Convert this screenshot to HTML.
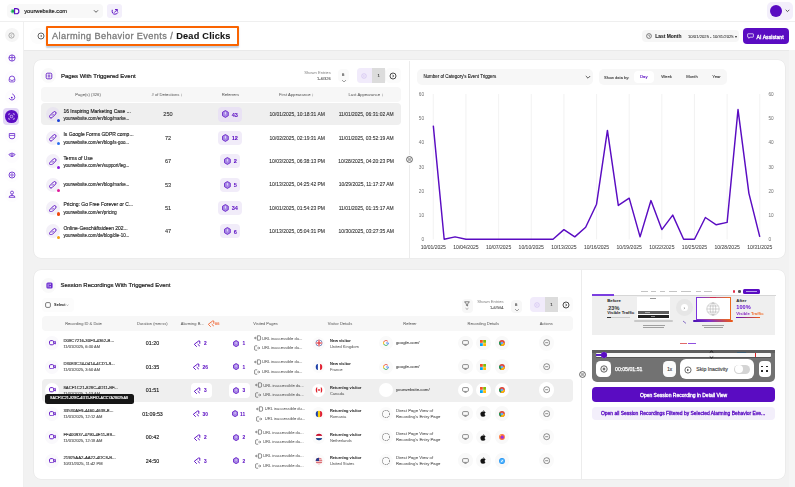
<!DOCTYPE html><html><head><meta charset="utf-8"><style>
html,body{margin:0;padding:0;width:795px;height:487px;overflow:hidden;background:#fff;font-family:"Liberation Sans",sans-serif;}
#root{position:absolute;left:0;top:0;width:795px;height:487px;transform:translateZ(0);opacity:0.999;-webkit-text-stroke-width:0.16px;}
*{box-sizing:border-box;}
</style></head><body><div id="root">
<div style="position:absolute;left:0px;top:0px;width:795px;height:22px;background:#fff;border-bottom:1px solid #efefef"></div>
<div style="position:absolute;left:0px;top:22px;width:24px;height:465px;background:#fff;border-right:1px solid #f0f0f0"></div>
<div style="position:absolute;left:24px;top:22px;width:771px;height:28px;background:#fff"></div>
<div style="position:absolute;left:24px;top:50px;width:771px;height:437px;background:#f2f2f2"></div>
<div style="position:absolute;left:24px;top:50px;width:771px;height:0.8px;background:#e9e9e9"></div>
<div style="position:absolute;left:789px;top:50px;width:6px;height:437px;background:#f5f5f5"></div>
<div style="position:absolute;left:6.5px;top:4px;width:96px;height:14.3px;background:#f8f8f8;border-radius:4px"></div>
<svg style="position:absolute;left:10px;top:7px;" width="10" height="9" viewBox="0 0 10 9"><circle cx="3" cy="4.2" r="2.3" fill="#7fd8a8"/><circle cx="3" cy="4.2" r="1.3" fill="#1aa050"/><path d="M4.6 1.6 H6.3 A2.6 2.6 0 0 1 6.3 6.8 H4.6 Z" stroke="#5a0cc2" stroke-width="1.1" fill="#fff"/></svg>
<div style="position:absolute;left:24.2px;top:5.57px;height:11.46px;line-height:11.46px;font-size:5.73px;color:#222;font-weight:normal;white-space:nowrap;">yourwebsite.com</div>
<svg style="position:absolute;left:93px;top:9px;" width="6" height="5" viewBox="0 0 6 5"><path d="M1 1.3 L3 3.3 L5 1.3" stroke="#333" stroke-width="0.8" fill="none"/></svg>
<div style="position:absolute;left:107.4px;top:4px;width:14.4px;height:14.3px;background:#f3effb;border-radius:3px"></div>
<svg style="position:absolute;left:111px;top:7.5px;" width="8" height="8" viewBox="0 0 8 8"><path d="M1.2 2.2 Q0.6 6.2 4 6.2 Q6.2 6.1 6.8 4.8" stroke="#5a0cc2" stroke-width="0.95" fill="none" stroke-linecap="round"/><path d="M3.4 4.4 L6 1.8" stroke="#5a0cc2" stroke-width="0.9" stroke-linecap="round"/><path d="M4.4 1.5 H6.3 V3.4" stroke="#5a0cc2" stroke-width="0.9" fill="none" stroke-linecap="round" stroke-linejoin="round"/></svg>
<div style="position:absolute;left:767px;top:2.3px;width:26px;height:17.7px;background:#f3effb;border-radius:5px"></div>
<div style="position:absolute;left:770.1px;top:5.199999999999999px;width:12px;height:12px;border-radius:50%;background:#5a0cc2"></div>
<svg style="position:absolute;left:784.5px;top:9px;" width="5" height="4" viewBox="0 0 5 4"><path d="M0.7 0.8 L2.5 2.6 L4.3 0.8" stroke="#333" stroke-width="0.8" fill="none"/></svg>
<div style="position:absolute;left:4.699999999999999px;top:28.299999999999997px;width:14px;height:14px;border-radius:50%;background:#f5f5f5"></div>
<svg style="position:absolute;left:8.2px;top:31.8px;" width="7" height="7" viewBox="0 0 7 7"><circle cx="3.5" cy="3.5" r="2.6" stroke="#8a8a8a" stroke-width="0.7" fill="none"/><path d="M4 2.3 L2.8 3.5 L4 4.7" stroke="#8a8a8a" stroke-width="0.7" fill="none"/></svg>
<div style="position:absolute;left:4.699999999999999px;top:51px;width:14px;height:14px;border-radius:50%;background:#fdfcfe"></div>
<div style="position:absolute;left:4.699999999999999px;top:70.5px;width:14px;height:14px;border-radius:50%;background:#fdfcfe"></div>
<div style="position:absolute;left:4.699999999999999px;top:90px;width:14px;height:14px;border-radius:50%;background:#fdfcfe"></div>
<div style="position:absolute;left:4.699999999999999px;top:129px;width:14px;height:14px;border-radius:50%;background:#fdfcfe"></div>
<div style="position:absolute;left:4.699999999999999px;top:148.5px;width:14px;height:14px;border-radius:50%;background:#fdfcfe"></div>
<div style="position:absolute;left:4.699999999999999px;top:168px;width:14px;height:14px;border-radius:50%;background:#fdfcfe"></div>
<div style="position:absolute;left:4.699999999999999px;top:187.5px;width:14px;height:14px;border-radius:50%;background:#fdfcfe"></div>
<svg style="position:absolute;left:7.8px;top:53.8px;" width="8" height="8" viewBox="0 0 8 8"><circle cx="4" cy="4" r="3.1" stroke="#6424cc" stroke-width="0.8" fill="none"/><path d="M4 0.9 V7.1 M0.9 3.6 H7.1" stroke="#6424cc" stroke-width="0.75"/></svg>
<svg style="position:absolute;left:7.8px;top:74.7px;" width="8" height="8" viewBox="0 0 8 8"><path d="M1.2 4.2 Q1.2 1 4 1 Q6.8 1 6.8 4.2 V5.6 Q6.8 6.9 5.5 6.9 H2.5 Q1.2 6.9 1.2 5.6 Z" stroke="#6424cc" stroke-width="0.8" fill="none"/><path d="M1.4 4.4 L4 5.6 L6.6 4.4" stroke="#6424cc" stroke-width="0.75" fill="none"/></svg>
<svg style="position:absolute;left:7.8px;top:92.7px;" width="8" height="8" viewBox="0 0 8 8"><path d="M4.6 1 Q7 2.2 6.8 4.6 Q6.4 7 4 7 Q2 7 1.2 5.4" stroke="#6424cc" stroke-width="0.85" fill="none" stroke-linecap="round"/><circle cx="3.8" cy="4.6" r="0.9" fill="#6424cc"/></svg>
<div style="position:absolute;left:2.7px;top:108px;width:16.5px;height:17px;background:#e3d8f6;border-radius:4px"></div>
<div style="position:absolute;left:5.000000000000001px;top:110.2px;width:12.6px;height:12.6px;border-radius:50%;background:#5a0cc2"></div>
<svg style="position:absolute;left:8px;top:113.2px;" width="7" height="7" viewBox="0 0 7 7"><path d="M0.8 2.2 V0.8 H2.2 M4.8 0.8 H6.2 V2.2 M6.2 4.8 V6.2 H4.8 M2.2 6.2 H0.8 V4.8" stroke="#fff" stroke-width="0.6" fill="none"/><circle cx="3.5" cy="3.5" r="1.3" stroke="#fff" stroke-width="0.6" fill="none"/></svg>
<svg style="position:absolute;left:7.8px;top:131.8px;" width="8" height="8" viewBox="0 0 8 8"><path d="M1.3 1.5 H6.7 V5 Q6.7 6.8 4 6.8 Q1.3 6.8 1.3 5 Z" stroke="#6424cc" stroke-width="0.8" fill="none"/><path d="M1.3 3.4 H6.7" stroke="#6424cc" stroke-width="0.75"/></svg>
<svg style="position:absolute;left:7.8px;top:151.3px;" width="8" height="8" viewBox="0 0 8 8"><path d="M0.9 3.4 Q4 0.6 7.1 3.4 Q4 8 0.9 3.4 Z" stroke="#6424cc" stroke-width="0.8" fill="none"/><circle cx="4" cy="3.9" r="1" stroke="#6424cc" stroke-width="0.7" fill="none"/></svg>
<svg style="position:absolute;left:7.8px;top:170.8px;" width="8" height="8" viewBox="0 0 8 8"><circle cx="4" cy="4" r="3" stroke="#6424cc" stroke-width="0.85" fill="none"/><circle cx="4" cy="4" r="1.2" stroke="#6424cc" stroke-width="0.75" fill="none"/></svg>
<svg style="position:absolute;left:7.8px;top:190.3px;" width="8" height="8" viewBox="0 0 8 8"><circle cx="4" cy="2.6" r="1.5" stroke="#6424cc" stroke-width="0.8" fill="none"/><path d="M4 4.1 V5.4 M1 7.3 Q1 5.4 4 5.4 Q7 5.4 7 7.3 Z" stroke="#6424cc" stroke-width="0.8" fill="none"/></svg>
<div style="position:absolute;left:30px;top:28.1px;width:16px;height:16px;border-radius:50%;background:#fcfcfc"></div>
<svg style="position:absolute;left:36.75px;top:32.1px;" width="8" height="8" viewBox="0 0 8 8"><circle cx="4" cy="4" r="3" stroke="#333" stroke-width="0.75" fill="none"/><path d="M4.6 2.9 L3.2 4 L4.6 5.1 Z" fill="#222"/></svg>
<div style="position:absolute;left:46px;top:26.4px;width:192.5px;height:19.8px;border:2.2px solid #fa6400;border-radius:1px;background:#fff;box-shadow:0 1.5px 1.5px rgba(120,150,190,0.45)"></div>
<div style="position:absolute;left:52px;top:30.3px;height:13px;line-height:13px;font-size:9.2px;white-space:nowrap;"><span style="color:#7a7a7a;letter-spacing:0.4px;-webkit-text-stroke-width:0.3px">Alarming Behavior Events / </span><span style="color:#151515;font-weight:bold;letter-spacing:0.22px;-webkit-text-stroke-width:0.1px">Dead Clicks</span></div>
<div style="position:absolute;left:642px;top:29.8px;width:97px;height:12.7px;background:#f6f6f6;border-radius:4px"></div>
<svg style="position:absolute;left:645.8px;top:32.8px;" width="6" height="6" viewBox="0 0 6 6"><circle cx="3" cy="3" r="2.4" stroke="#333" stroke-width="0.6" fill="none"/><path d="M3 1.8 V3 L3.8 3.6" stroke="#333" stroke-width="0.6" fill="none"/></svg>
<div style="position:absolute;left:655.2px;top:31.95px;height:9.9px;line-height:9.9px;font-size:4.95px;color:#151515;font-weight:bold;white-space:nowrap;-webkit-text-stroke-width:0.05px;">Last Month</div>
<div style="position:absolute;left:688px;top:32.699999999999996px;height:8.4px;line-height:8.4px;font-size:4.2px;color:#333;font-weight:normal;white-space:nowrap;-webkit-text-stroke-width:0.05px;">10/01/2025 - 10/31/2025 ▾</div>
<div style="position:absolute;left:743.3px;top:28.4px;width:45.7px;height:15.4px;background:#5a0cc2;border-radius:4px"></div>
<svg style="position:absolute;left:747.3px;top:33.4px;" width="7" height="6" viewBox="0 0 7 6"><path d="M1 0.8 H6 Q6.4 0.8 6.4 1.2 V3.8 Q6.4 4.2 6 4.2 H3 L1.8 5.3 V4.2 H1 Q0.6 4.2 0.6 3.8 V1.2 Q0.6 0.8 1 0.8 Z" stroke="#fff" stroke-width="0.7" fill="none"/></svg>
<div style="position:absolute;left:756.6px;top:31.599999999999998px;height:10.4px;line-height:10.4px;font-size:5.2px;color:#fff;font-weight:normal;white-space:nowrap;-webkit-text-stroke-width:0.32px;">AI Assistant</div>
<div style="position:absolute;left:33.5px;top:60.4px;width:751.1px;height:198px;background:#fff;border-radius:7px;box-shadow:0 0 0 0.6px #e6e6e6"></div>
<div style="position:absolute;left:33.5px;top:270.2px;width:751.1px;height:209px;background:#fff;border-radius:7px;box-shadow:0 0 0 0.6px #e6e6e6"></div>
<div style="position:absolute;left:409px;top:60.5px;width:0.9px;height:198px;background:#ececec"></div>
<div style="position:absolute;left:581px;top:270.2px;width:0.9px;height:209px;background:#ececec"></div>
<div style="position:absolute;left:41.3px;top:68.1px;width:15.0px;height:15.0px;border-radius:50%;background:#f9f9f9"></div>
<svg style="position:absolute;left:44.8px;top:71.6px;" width="8" height="8" viewBox="0 0 8 8"><rect x="1.2" y="1.2" width="5.6" height="5.6" rx="1.2" stroke="#5a0cc2" stroke-width="0.85" fill="none"/><path d="M3.3 2.5 V5.5 M4.7 2.5 V5.5" stroke="#5a0cc2" stroke-width="0.7"/></svg>
<div style="position:absolute;left:61px;top:69.8px;height:12.0px;line-height:12.0px;font-size:6.0px;color:#1a1a1a;font-weight:normal;white-space:nowrap;-webkit-text-stroke-width:0.2px;">Pages With Triggered Event</div>
<div style="position:absolute;left:30.69999999999999px;width:300px;text-align:right;top:69.10000000000001px;height:8.2px;line-height:8.2px;font-size:4.1px;color:#8a8a8a;font-weight:normal;white-space:nowrap;-webkit-text-stroke-width:0.02px;">Shown Entries</div>
<div style="position:absolute;left:30.69999999999999px;width:300px;text-align:right;top:74.7px;height:8.0px;line-height:8.0px;font-size:4.0px;color:#444;font-weight:normal;white-space:nowrap;-webkit-text-stroke-width:0.05px;">1-6/326</div>
<div style="position:absolute;left:338px;top:68.5px;width:10.7px;height:13.9px;background:#fafafa;border-radius:4px"></div>
<div style="position:absolute;left:193.3px;width:300px;text-align:center;top:71.10000000000001px;height:8.6px;line-height:8.6px;font-size:4.3px;color:#333;font-weight:normal;white-space:nowrap;-webkit-text-stroke-width:0.1px;">6</div>
<svg style="position:absolute;left:340.5px;top:78.5px;" width="6" height="4" viewBox="0 0 6 4"><path d="M1 1 L3 3 L5 1" stroke="#666" stroke-width="0.6" fill="none"/></svg>
<div style="position:absolute;left:356.6px;top:68px;width:29px;height:15px;background:#f6f6f6;border-radius:4px;overflow:hidden"></div>
<div style="position:absolute;left:356.6px;top:68px;width:15.4px;height:15px;background:#f1ebfb;border-radius:4px 0 0 4px"></div>
<svg style="position:absolute;left:361.3px;top:72.5px;" width="6" height="6" viewBox="0 0 6 6"><circle cx="3" cy="3" r="2.3" stroke="#cbb8ef" stroke-width="0.6" fill="none"/><path d="M3.4 2 L2.4 3 L3.4 4" stroke="#cbb8ef" stroke-width="0.6" fill="none"/></svg>
<div style="position:absolute;left:372px;top:68px;width:13.3px;height:15px;background:#dcdcdc"></div>
<div style="position:absolute;left:228.8px;width:300px;text-align:center;top:71.89999999999999px;height:8.8px;line-height:8.8px;font-size:4.4px;color:#333;font-weight:normal;white-space:nowrap;-webkit-text-stroke-width:0.1px;">1</div>
<div style="position:absolute;left:385.5px;top:68.2px;width:15.5px;height:15.1px;background:#fbfbfb;border-radius:4px"></div>
<svg style="position:absolute;left:388.8px;top:71.9px;" width="8" height="8" viewBox="0 0 8 8"><circle cx="4" cy="4" r="3" stroke="#222" stroke-width="0.8" fill="none"/><path d="M3.4 2.7 L4.7 4 L3.4 5.3" stroke="#222" stroke-width="0.8" fill="none"/></svg>
<div style="position:absolute;left:41px;top:86.5px;width:360px;height:15px;background:#f7f7f7;border-radius:4px"></div>
<div style="position:absolute;left:-62px;width:300px;text-align:center;top:90.89999999999999px;height:8.4px;line-height:8.4px;font-size:4.2px;color:#5e5e5e;font-weight:normal;white-space:nowrap;-webkit-text-stroke-width:0.03px;">Page(s) (326)</div>
<div style="position:absolute;left:17px;width:300px;text-align:center;top:90.89999999999999px;height:8.4px;line-height:8.4px;font-size:4.2px;color:#5e5e5e;font-weight:normal;white-space:nowrap;-webkit-text-stroke-width:0.03px;"># of Detections ↕</div>
<div style="position:absolute;left:80.4px;width:300px;text-align:center;top:90.89999999999999px;height:8.4px;line-height:8.4px;font-size:4.2px;color:#5e5e5e;font-weight:normal;white-space:nowrap;-webkit-text-stroke-width:0.03px;">Referrers</div>
<div style="position:absolute;left:146.39999999999998px;width:300px;text-align:center;top:90.89999999999999px;height:8.4px;line-height:8.4px;font-size:4.2px;color:#5e5e5e;font-weight:normal;white-space:nowrap;-webkit-text-stroke-width:0.03px;">First Appearance ↕</div>
<div style="position:absolute;left:215.89999999999998px;width:300px;text-align:center;top:90.89999999999999px;height:8.4px;line-height:8.4px;font-size:4.2px;color:#5e5e5e;font-weight:normal;white-space:nowrap;-webkit-text-stroke-width:0.03px;">Last Appearance ↕</div>
<div style="position:absolute;left:41px;top:103.4px;width:360px;height:22px;background:#efefef;border-radius:4px"></div>
<div style="position:absolute;left:45.6px;top:107.4px;width:14px;height:14px;border-radius:50%;background:#e9e5f0"></div>
<svg style="position:absolute;left:49.2px;top:111.0px;" width="7.6" height="7.6" viewBox="0 0 7.6 7.6"><rect x="2.3" y="-0.2" width="3" height="8" rx="1.5" transform="rotate(45 3.8 3.8)" stroke="#5a0cc2" stroke-width="0.9" fill="none"/><path d="M3 4.6 L4.6 3" stroke="#5a0cc2" stroke-width="0.8"/></svg>
<div style="position:absolute;left:56.8px;top:118.80000000000001px;width:3.2px;height:3.2px;border-radius:50%;background:#1a3fd6"></div>
<div style="position:absolute;left:63.4px;top:106.82000000000001px;height:9.96px;line-height:9.96px;font-size:4.98px;color:#1a1a1a;font-weight:normal;white-space:nowrap;-webkit-text-stroke-width:0.14px;">16 Inspiring Marketing Case ...</div>
<div style="position:absolute;left:63.4px;top:115.39000000000001px;height:8.82px;line-height:8.82px;font-size:4.41px;color:#333;font-weight:normal;white-space:nowrap;">yourwebsite.com/en/blog/marke...</div>
<div style="position:absolute;left:18px;width:300px;text-align:center;top:109.4px;height:11.2px;line-height:11.2px;font-size:5.6px;color:#333;font-weight:normal;white-space:nowrap;-webkit-text-stroke-width:0.1px;">250</div>
<div style="position:absolute;left:218.04999999999998px;top:107.4px;width:24.3px;height:14.2px;background:#e9e2f4;border-radius:4px"></div>
<svg style="position:absolute;left:222.03799999999998px;top:110.42800000000001px;" width="6.824000000000001" height="7.944000000000001" viewBox="0 0 6.824000000000001 7.944000000000001"><path d="M3.41 0.5 L6.32 2.24 V5.71 L3.41 7.44 L0.5 5.71 V2.24 Z" fill="#a888e6" stroke="#5a0cc2" stroke-width="0.75" stroke-linejoin="round"/><path d="M3.41 2.58 V3.97" stroke="#e6dbfa" stroke-width="1.01" stroke-linecap="round"/></svg>
<div style="position:absolute;left:231.75px;top:109.70000000000002px;height:11.2px;line-height:11.2px;font-size:5.6px;color:#5a0cc2;font-weight:bold;white-space:nowrap;-webkit-text-stroke-width:0.05px;">43</div>
<div style="position:absolute;left:147.2px;width:300px;text-align:center;top:110.23px;height:9.94px;line-height:9.94px;font-size:4.97px;color:#333;font-weight:normal;white-space:nowrap;-webkit-text-stroke-width:0.1px;">10/01/2025, 10:18:31 AM</div>
<div style="position:absolute;left:216.2px;width:300px;text-align:center;top:110.23px;height:9.94px;line-height:9.94px;font-size:4.97px;color:#333;font-weight:normal;white-space:nowrap;-webkit-text-stroke-width:0.1px;">11/01/2025, 06:31:02 AM</div>
<div style="position:absolute;left:45.6px;top:130.78px;width:14px;height:14px;border-radius:50%;background:#f3f0f8"></div>
<svg style="position:absolute;left:49.2px;top:134.38px;" width="7.6" height="7.6" viewBox="0 0 7.6 7.6"><rect x="2.3" y="-0.2" width="3" height="8" rx="1.5" transform="rotate(45 3.8 3.8)" stroke="#5a0cc2" stroke-width="0.9" fill="none"/><path d="M3 4.6 L4.6 3" stroke="#5a0cc2" stroke-width="0.8"/></svg>
<div style="position:absolute;left:56.8px;top:142.18px;width:3.2px;height:3.2px;border-radius:50%;background:#2a6ef0"></div>
<div style="position:absolute;left:63.4px;top:130.20000000000002px;height:9.96px;line-height:9.96px;font-size:4.98px;color:#1a1a1a;font-weight:normal;white-space:nowrap;-webkit-text-stroke-width:0.14px;">Is Google Forms GDPR comp...</div>
<div style="position:absolute;left:63.4px;top:138.77px;height:8.82px;line-height:8.82px;font-size:4.41px;color:#333;font-weight:normal;white-space:nowrap;">yourwebsite.com/en/blog/is-goo...</div>
<div style="position:absolute;left:18px;width:300px;text-align:center;top:132.78px;height:11.2px;line-height:11.2px;font-size:5.6px;color:#333;font-weight:normal;white-space:nowrap;-webkit-text-stroke-width:0.1px;">72</div>
<div style="position:absolute;left:218.04999999999998px;top:130.78px;width:24.3px;height:14.2px;background:#f1ecf9;border-radius:4px"></div>
<svg style="position:absolute;left:222.03799999999998px;top:133.808px;" width="6.824000000000001" height="7.944000000000001" viewBox="0 0 6.824000000000001 7.944000000000001"><path d="M3.41 0.5 L6.32 2.24 V5.71 L3.41 7.44 L0.5 5.71 V2.24 Z" fill="#a888e6" stroke="#5a0cc2" stroke-width="0.75" stroke-linejoin="round"/><path d="M3.41 2.58 V3.97" stroke="#e6dbfa" stroke-width="1.01" stroke-linecap="round"/></svg>
<div style="position:absolute;left:231.75px;top:133.08px;height:11.2px;line-height:11.2px;font-size:5.6px;color:#5a0cc2;font-weight:bold;white-space:nowrap;-webkit-text-stroke-width:0.05px;">12</div>
<div style="position:absolute;left:147.2px;width:300px;text-align:center;top:133.61px;height:9.94px;line-height:9.94px;font-size:4.97px;color:#333;font-weight:normal;white-space:nowrap;-webkit-text-stroke-width:0.1px;">10/02/2025, 02:19:31 AM</div>
<div style="position:absolute;left:216.2px;width:300px;text-align:center;top:133.61px;height:9.94px;line-height:9.94px;font-size:4.97px;color:#333;font-weight:normal;white-space:nowrap;-webkit-text-stroke-width:0.1px;">11/01/2025, 03:52:19 AM</div>
<div style="position:absolute;left:45.6px;top:154.16px;width:14px;height:14px;border-radius:50%;background:#f3f0f8"></div>
<svg style="position:absolute;left:49.2px;top:157.76px;" width="7.6" height="7.6" viewBox="0 0 7.6 7.6"><rect x="2.3" y="-0.2" width="3" height="8" rx="1.5" transform="rotate(45 3.8 3.8)" stroke="#5a0cc2" stroke-width="0.9" fill="none"/><path d="M3 4.6 L4.6 3" stroke="#5a0cc2" stroke-width="0.8"/></svg>
<div style="position:absolute;left:56.8px;top:165.56px;width:3.2px;height:3.2px;border-radius:50%;background:#8a18e0"></div>
<div style="position:absolute;left:63.4px;top:153.58px;height:9.96px;line-height:9.96px;font-size:4.98px;color:#1a1a1a;font-weight:normal;white-space:nowrap;-webkit-text-stroke-width:0.14px;">Terms of Use</div>
<div style="position:absolute;left:63.4px;top:162.15px;height:8.82px;line-height:8.82px;font-size:4.41px;color:#333;font-weight:normal;white-space:nowrap;">yourwebsite.com/en/support/leg...</div>
<div style="position:absolute;left:18px;width:300px;text-align:center;top:156.16px;height:11.2px;line-height:11.2px;font-size:5.6px;color:#333;font-weight:normal;white-space:nowrap;-webkit-text-stroke-width:0.1px;">67</div>
<div style="position:absolute;left:219.95px;top:154.16px;width:20.5px;height:14.2px;background:#f1ecf9;border-radius:4px"></div>
<svg style="position:absolute;left:223.938px;top:157.188px;" width="6.824000000000001" height="7.944000000000001" viewBox="0 0 6.824000000000001 7.944000000000001"><path d="M3.41 0.5 L6.32 2.24 V5.71 L3.41 7.44 L0.5 5.71 V2.24 Z" fill="#a888e6" stroke="#5a0cc2" stroke-width="0.75" stroke-linejoin="round"/><path d="M3.41 2.58 V3.97" stroke="#e6dbfa" stroke-width="1.01" stroke-linecap="round"/></svg>
<div style="position:absolute;left:233.65px;top:156.46px;height:11.2px;line-height:11.2px;font-size:5.6px;color:#5a0cc2;font-weight:bold;white-space:nowrap;-webkit-text-stroke-width:0.05px;">2</div>
<div style="position:absolute;left:147.2px;width:300px;text-align:center;top:156.99px;height:9.94px;line-height:9.94px;font-size:4.97px;color:#333;font-weight:normal;white-space:nowrap;-webkit-text-stroke-width:0.1px;">10/03/2025, 06:38:13 PM</div>
<div style="position:absolute;left:216.2px;width:300px;text-align:center;top:156.99px;height:9.94px;line-height:9.94px;font-size:4.97px;color:#333;font-weight:normal;white-space:nowrap;-webkit-text-stroke-width:0.1px;">10/28/2025, 04:20:23 PM</div>
<div style="position:absolute;left:45.6px;top:177.54000000000002px;width:14px;height:14px;border-radius:50%;background:#f3f0f8"></div>
<svg style="position:absolute;left:49.2px;top:181.14000000000001px;" width="7.6" height="7.6" viewBox="0 0 7.6 7.6"><rect x="2.3" y="-0.2" width="3" height="8" rx="1.5" transform="rotate(45 3.8 3.8)" stroke="#5a0cc2" stroke-width="0.9" fill="none"/><path d="M3 4.6 L4.6 3" stroke="#5a0cc2" stroke-width="0.8"/></svg>
<div style="position:absolute;left:56.8px;top:188.94000000000003px;width:3.2px;height:3.2px;border-radius:50%;background:#e0189a"></div>
<div style="position:absolute;left:63.4px;top:181.43000000000004px;height:8.82px;line-height:8.82px;font-size:4.41px;color:#333;font-weight:normal;white-space:nowrap;">yourwebsite.com/en/blog/marke...</div>
<div style="position:absolute;left:18px;width:300px;text-align:center;top:179.54000000000002px;height:11.2px;line-height:11.2px;font-size:5.6px;color:#333;font-weight:normal;white-space:nowrap;-webkit-text-stroke-width:0.1px;">53</div>
<div style="position:absolute;left:219.95px;top:177.54000000000002px;width:20.5px;height:14.2px;background:#f1ecf9;border-radius:4px"></div>
<svg style="position:absolute;left:223.938px;top:180.568px;" width="6.824000000000001" height="7.944000000000001" viewBox="0 0 6.824000000000001 7.944000000000001"><path d="M3.41 0.5 L6.32 2.24 V5.71 L3.41 7.44 L0.5 5.71 V2.24 Z" fill="#a888e6" stroke="#5a0cc2" stroke-width="0.75" stroke-linejoin="round"/><path d="M3.41 2.58 V3.97" stroke="#e6dbfa" stroke-width="1.01" stroke-linecap="round"/></svg>
<div style="position:absolute;left:233.65px;top:179.84000000000003px;height:11.2px;line-height:11.2px;font-size:5.6px;color:#5a0cc2;font-weight:bold;white-space:nowrap;-webkit-text-stroke-width:0.05px;">5</div>
<div style="position:absolute;left:147.2px;width:300px;text-align:center;top:180.37000000000003px;height:9.94px;line-height:9.94px;font-size:4.97px;color:#333;font-weight:normal;white-space:nowrap;-webkit-text-stroke-width:0.1px;">10/13/2025, 04:25:42 PM</div>
<div style="position:absolute;left:216.2px;width:300px;text-align:center;top:180.37000000000003px;height:9.94px;line-height:9.94px;font-size:4.97px;color:#333;font-weight:normal;white-space:nowrap;-webkit-text-stroke-width:0.1px;">10/29/2025, 11:17:27 AM</div>
<div style="position:absolute;left:45.6px;top:200.92000000000002px;width:14px;height:14px;border-radius:50%;background:#f3f0f8"></div>
<svg style="position:absolute;left:49.2px;top:204.52px;" width="7.6" height="7.6" viewBox="0 0 7.6 7.6"><rect x="2.3" y="-0.2" width="3" height="8" rx="1.5" transform="rotate(45 3.8 3.8)" stroke="#5a0cc2" stroke-width="0.9" fill="none"/><path d="M3 4.6 L4.6 3" stroke="#5a0cc2" stroke-width="0.8"/></svg>
<div style="position:absolute;left:56.8px;top:212.32000000000002px;width:3.2px;height:3.2px;border-radius:50%;background:#f04a10"></div>
<div style="position:absolute;left:63.4px;top:200.34000000000003px;height:9.96px;line-height:9.96px;font-size:4.98px;color:#1a1a1a;font-weight:normal;white-space:nowrap;-webkit-text-stroke-width:0.14px;">Pricing: Go Free Forever or C...</div>
<div style="position:absolute;left:63.4px;top:208.91000000000003px;height:8.82px;line-height:8.82px;font-size:4.41px;color:#333;font-weight:normal;white-space:nowrap;">yourwebsite.com/en/pricing</div>
<div style="position:absolute;left:18px;width:300px;text-align:center;top:202.92000000000002px;height:11.2px;line-height:11.2px;font-size:5.6px;color:#333;font-weight:normal;white-space:nowrap;-webkit-text-stroke-width:0.1px;">51</div>
<div style="position:absolute;left:218.04999999999998px;top:200.92000000000002px;width:24.3px;height:14.2px;background:#f1ecf9;border-radius:4px"></div>
<svg style="position:absolute;left:222.03799999999998px;top:203.948px;" width="6.824000000000001" height="7.944000000000001" viewBox="0 0 6.824000000000001 7.944000000000001"><path d="M3.41 0.5 L6.32 2.24 V5.71 L3.41 7.44 L0.5 5.71 V2.24 Z" fill="#a888e6" stroke="#5a0cc2" stroke-width="0.75" stroke-linejoin="round"/><path d="M3.41 2.58 V3.97" stroke="#e6dbfa" stroke-width="1.01" stroke-linecap="round"/></svg>
<div style="position:absolute;left:231.75px;top:203.22000000000003px;height:11.2px;line-height:11.2px;font-size:5.6px;color:#5a0cc2;font-weight:bold;white-space:nowrap;-webkit-text-stroke-width:0.05px;">34</div>
<div style="position:absolute;left:147.2px;width:300px;text-align:center;top:203.75000000000003px;height:9.94px;line-height:9.94px;font-size:4.97px;color:#333;font-weight:normal;white-space:nowrap;-webkit-text-stroke-width:0.1px;">10/01/2025, 01:54:23 PM</div>
<div style="position:absolute;left:216.2px;width:300px;text-align:center;top:203.75000000000003px;height:9.94px;line-height:9.94px;font-size:4.97px;color:#333;font-weight:normal;white-space:nowrap;-webkit-text-stroke-width:0.1px;">11/01/2025, 01:15:17 AM</div>
<div style="position:absolute;left:45.6px;top:224.3px;width:14px;height:14px;border-radius:50%;background:#f3f0f8"></div>
<svg style="position:absolute;left:49.2px;top:227.9px;" width="7.6" height="7.6" viewBox="0 0 7.6 7.6"><rect x="2.3" y="-0.2" width="3" height="8" rx="1.5" transform="rotate(45 3.8 3.8)" stroke="#5a0cc2" stroke-width="0.9" fill="none"/><path d="M3 4.6 L4.6 3" stroke="#5a0cc2" stroke-width="0.8"/></svg>
<div style="position:absolute;left:56.8px;top:235.70000000000002px;width:3.2px;height:3.2px;border-radius:50%;background:#f0a010"></div>
<div style="position:absolute;left:63.4px;top:223.72000000000003px;height:9.96px;line-height:9.96px;font-size:4.98px;color:#1a1a1a;font-weight:normal;white-space:nowrap;-webkit-text-stroke-width:0.14px;">Online-Gesch&auml;ftsideen 202...</div>
<div style="position:absolute;left:63.4px;top:232.29000000000002px;height:8.82px;line-height:8.82px;font-size:4.41px;color:#333;font-weight:normal;white-space:nowrap;">yourwebsite.com/de/blog/die-10...</div>
<div style="position:absolute;left:18px;width:300px;text-align:center;top:226.3px;height:11.2px;line-height:11.2px;font-size:5.6px;color:#333;font-weight:normal;white-space:nowrap;-webkit-text-stroke-width:0.1px;">47</div>
<div style="position:absolute;left:219.95px;top:224.3px;width:20.5px;height:14.2px;background:#f1ecf9;border-radius:4px"></div>
<svg style="position:absolute;left:223.938px;top:227.328px;" width="6.824000000000001" height="7.944000000000001" viewBox="0 0 6.824000000000001 7.944000000000001"><path d="M3.41 0.5 L6.32 2.24 V5.71 L3.41 7.44 L0.5 5.71 V2.24 Z" fill="#a888e6" stroke="#5a0cc2" stroke-width="0.75" stroke-linejoin="round"/><path d="M3.41 2.58 V3.97" stroke="#e6dbfa" stroke-width="1.01" stroke-linecap="round"/></svg>
<div style="position:absolute;left:233.65px;top:226.60000000000002px;height:11.2px;line-height:11.2px;font-size:5.6px;color:#5a0cc2;font-weight:bold;white-space:nowrap;-webkit-text-stroke-width:0.05px;">6</div>
<div style="position:absolute;left:147.2px;width:300px;text-align:center;top:227.13000000000002px;height:9.94px;line-height:9.94px;font-size:4.97px;color:#333;font-weight:normal;white-space:nowrap;-webkit-text-stroke-width:0.1px;">10/13/2025, 05:04:31 PM</div>
<div style="position:absolute;left:216.2px;width:300px;text-align:center;top:227.13000000000002px;height:9.94px;line-height:9.94px;font-size:4.97px;color:#333;font-weight:normal;white-space:nowrap;-webkit-text-stroke-width:0.1px;">10/30/2025, 03:27:35 AM</div>
<div style="position:absolute;left:404.2px;top:154.8px;width:10px;height:10px;border-radius:50%;background:#fdfdfd"></div>
<svg style="position:absolute;left:405.7px;top:156.3px;" width="7" height="7" viewBox="0 0 7 7"><circle cx="3.5" cy="3.5" r="2.9" stroke="#333" stroke-width="0.75" fill="none"/><path d="M2.1 2.9 H4.9 M2.1 4.1 H4.9" stroke="#333" stroke-width="0.6"/></svg>
<div style="position:absolute;left:417.2px;top:68.6px;width:176px;height:16.5px;background:#f7f7f7;border-radius:5px"></div>
<div style="position:absolute;left:423.4px;top:73.16px;height:8.88px;line-height:8.88px;font-size:4.44px;color:#222;font-weight:normal;white-space:nowrap;-webkit-text-stroke-width:0.1px;">Number of Category's Event Triggers</div>
<svg style="position:absolute;left:585px;top:74.5px;" width="6" height="5" viewBox="0 0 6 5"><path d="M0.8 1 L3 3.2 L5.2 1" stroke="#333" stroke-width="0.8" fill="none"/></svg>
<div style="position:absolute;left:598.5px;top:68.8px;width:128.5px;height:16.2px;background:#f7f7f7;border-radius:5px"></div>
<div style="position:absolute;left:604px;top:73.5px;height:8.0px;line-height:8.0px;font-size:4.0px;color:#333;font-weight:normal;white-space:nowrap;-webkit-text-stroke-width:0.08px;">Show data by:</div>
<div style="position:absolute;left:634px;top:71px;width:20px;height:12px;background:#fff;border-radius:4px"></div>
<div style="position:absolute;left:493.79999999999995px;width:300px;text-align:center;top:73.3px;height:8.4px;line-height:8.4px;font-size:4.2px;color:#5a0cc2;font-weight:normal;white-space:nowrap;-webkit-text-stroke-width:0.12px;">Day</div>
<div style="position:absolute;left:516.5px;width:300px;text-align:center;top:73.3px;height:8.4px;line-height:8.4px;font-size:4.2px;color:#333;font-weight:normal;white-space:nowrap;-webkit-text-stroke-width:0.08px;">Week</div>
<div style="position:absolute;left:542px;width:300px;text-align:center;top:73.3px;height:8.4px;line-height:8.4px;font-size:4.2px;color:#333;font-weight:normal;white-space:nowrap;-webkit-text-stroke-width:0.08px;">Month</div>
<div style="position:absolute;left:566.5px;width:300px;text-align:center;top:73.3px;height:8.4px;line-height:8.4px;font-size:4.2px;color:#333;font-weight:normal;white-space:nowrap;-webkit-text-stroke-width:0.08px;">Year</div>
<svg style="position:absolute;left:405px;top:80px;" width="380" height="175" viewBox="0 0 380 175"><line x1="28.30" y1="14" x2="28.30" y2="159.3" stroke="#efefef" stroke-width="0.8"/><line x1="60.95" y1="14" x2="60.95" y2="159.3" stroke="#efefef" stroke-width="0.8"/><line x1="93.60" y1="14" x2="93.60" y2="159.3" stroke="#efefef" stroke-width="0.8"/><line x1="126.25" y1="14" x2="126.25" y2="159.3" stroke="#efefef" stroke-width="0.8"/><line x1="158.90" y1="14" x2="158.90" y2="159.3" stroke="#efefef" stroke-width="0.8"/><line x1="191.54" y1="14" x2="191.54" y2="159.3" stroke="#efefef" stroke-width="0.8"/><line x1="224.19" y1="14" x2="224.19" y2="159.3" stroke="#efefef" stroke-width="0.8"/><line x1="256.84" y1="14" x2="256.84" y2="159.3" stroke="#efefef" stroke-width="0.8"/><line x1="289.49" y1="14" x2="289.49" y2="159.3" stroke="#efefef" stroke-width="0.8"/><line x1="322.14" y1="14" x2="322.14" y2="159.3" stroke="#efefef" stroke-width="0.8"/><line x1="354.79" y1="14" x2="354.79" y2="159.3" stroke="#efefef" stroke-width="0.8"/><polyline points="28.30,45.56 39.18,159.30 50.07,156.88 60.95,159.30 71.83,159.30 82.72,159.30 93.60,159.30 104.48,159.30 115.36,159.30 126.25,159.30 137.13,159.30 148.01,159.30 158.90,149.62 169.78,156.88 180.66,147.20 191.54,124.21 202.43,50.40 213.31,125.42 224.19,118.16 235.08,156.88 245.96,120.58 256.84,149.62 267.73,135.10 278.61,159.30 289.49,159.30 300.38,137.52 311.26,144.78 322.14,142.36 333.02,29.59 343.91,113.32 354.79,156.88" fill="none" stroke="#5a0cc2" stroke-width="1.45" stroke-linejoin="round"/></svg>
<div style="position:absolute;left:124px;width:300px;text-align:right;top:90.0px;height:9.4px;line-height:9.4px;font-size:4.7px;color:#777;font-weight:normal;white-space:nowrap;-webkit-text-stroke-width:0.02px;">60</div>
<div style="position:absolute;left:768.5px;top:90.0px;height:9.4px;line-height:9.4px;font-size:4.7px;color:#777;font-weight:normal;white-space:nowrap;-webkit-text-stroke-width:0.02px;">60</div>
<div style="position:absolute;left:124px;width:300px;text-align:right;top:114.22px;height:9.4px;line-height:9.4px;font-size:4.7px;color:#777;font-weight:normal;white-space:nowrap;-webkit-text-stroke-width:0.02px;">50</div>
<div style="position:absolute;left:768.5px;top:114.22px;height:9.4px;line-height:9.4px;font-size:4.7px;color:#777;font-weight:normal;white-space:nowrap;-webkit-text-stroke-width:0.02px;">50</div>
<div style="position:absolute;left:124px;width:300px;text-align:right;top:138.44px;height:9.4px;line-height:9.4px;font-size:4.7px;color:#777;font-weight:normal;white-space:nowrap;-webkit-text-stroke-width:0.02px;">40</div>
<div style="position:absolute;left:768.5px;top:138.44px;height:9.4px;line-height:9.4px;font-size:4.7px;color:#777;font-weight:normal;white-space:nowrap;-webkit-text-stroke-width:0.02px;">40</div>
<div style="position:absolute;left:124px;width:300px;text-align:right;top:162.66px;height:9.4px;line-height:9.4px;font-size:4.7px;color:#777;font-weight:normal;white-space:nowrap;-webkit-text-stroke-width:0.02px;">30</div>
<div style="position:absolute;left:768.5px;top:162.66px;height:9.4px;line-height:9.4px;font-size:4.7px;color:#777;font-weight:normal;white-space:nowrap;-webkit-text-stroke-width:0.02px;">30</div>
<div style="position:absolute;left:124px;width:300px;text-align:right;top:186.88px;height:9.4px;line-height:9.4px;font-size:4.7px;color:#777;font-weight:normal;white-space:nowrap;-webkit-text-stroke-width:0.02px;">20</div>
<div style="position:absolute;left:768.5px;top:186.88px;height:9.4px;line-height:9.4px;font-size:4.7px;color:#777;font-weight:normal;white-space:nowrap;-webkit-text-stroke-width:0.02px;">20</div>
<div style="position:absolute;left:124px;width:300px;text-align:right;top:211.1px;height:9.4px;line-height:9.4px;font-size:4.7px;color:#777;font-weight:normal;white-space:nowrap;-webkit-text-stroke-width:0.02px;">10</div>
<div style="position:absolute;left:768.5px;top:211.1px;height:9.4px;line-height:9.4px;font-size:4.7px;color:#777;font-weight:normal;white-space:nowrap;-webkit-text-stroke-width:0.02px;">10</div>
<div style="position:absolute;left:124px;width:300px;text-align:right;top:235.32px;height:9.4px;line-height:9.4px;font-size:4.7px;color:#777;font-weight:normal;white-space:nowrap;-webkit-text-stroke-width:0.02px;">0</div>
<div style="position:absolute;left:768.5px;top:235.32px;height:9.4px;line-height:9.4px;font-size:4.7px;color:#777;font-weight:normal;white-space:nowrap;-webkit-text-stroke-width:0.02px;">0</div>
<div style="position:absolute;left:283.3px;width:300px;text-align:center;top:241.85px;height:10.1px;line-height:10.1px;font-size:5.05px;color:#444;font-weight:normal;white-space:nowrap;-webkit-text-stroke-width:0.05px;">10/01/2025</div>
<div style="position:absolute;left:315.949px;width:300px;text-align:center;top:241.85px;height:10.1px;line-height:10.1px;font-size:5.05px;color:#444;font-weight:normal;white-space:nowrap;-webkit-text-stroke-width:0.05px;">10/04/2025</div>
<div style="position:absolute;left:348.598px;width:300px;text-align:center;top:241.85px;height:10.1px;line-height:10.1px;font-size:5.05px;color:#444;font-weight:normal;white-space:nowrap;-webkit-text-stroke-width:0.05px;">10/07/2025</div>
<div style="position:absolute;left:381.24699999999996px;width:300px;text-align:center;top:241.85px;height:10.1px;line-height:10.1px;font-size:5.05px;color:#444;font-weight:normal;white-space:nowrap;-webkit-text-stroke-width:0.05px;">10/10/2025</div>
<div style="position:absolute;left:413.89599999999996px;width:300px;text-align:center;top:241.85px;height:10.1px;line-height:10.1px;font-size:5.05px;color:#444;font-weight:normal;white-space:nowrap;-webkit-text-stroke-width:0.05px;">10/13/2025</div>
<div style="position:absolute;left:446.54499999999996px;width:300px;text-align:center;top:241.85px;height:10.1px;line-height:10.1px;font-size:5.05px;color:#444;font-weight:normal;white-space:nowrap;-webkit-text-stroke-width:0.05px;">10/16/2025</div>
<div style="position:absolute;left:479.19399999999996px;width:300px;text-align:center;top:241.85px;height:10.1px;line-height:10.1px;font-size:5.05px;color:#444;font-weight:normal;white-space:nowrap;-webkit-text-stroke-width:0.05px;">10/19/2025</div>
<div style="position:absolute;left:511.84299999999996px;width:300px;text-align:center;top:241.85px;height:10.1px;line-height:10.1px;font-size:5.05px;color:#444;font-weight:normal;white-space:nowrap;-webkit-text-stroke-width:0.05px;">10/22/2025</div>
<div style="position:absolute;left:544.492px;width:300px;text-align:center;top:241.85px;height:10.1px;line-height:10.1px;font-size:5.05px;color:#444;font-weight:normal;white-space:nowrap;-webkit-text-stroke-width:0.05px;">10/25/2025</div>
<div style="position:absolute;left:577.141px;width:300px;text-align:center;top:241.85px;height:10.1px;line-height:10.1px;font-size:5.05px;color:#444;font-weight:normal;white-space:nowrap;-webkit-text-stroke-width:0.05px;">10/28/2025</div>
<div style="position:absolute;left:609.79px;width:300px;text-align:center;top:241.85px;height:10.1px;line-height:10.1px;font-size:5.05px;color:#444;font-weight:normal;white-space:nowrap;-webkit-text-stroke-width:0.05px;">10/31/2025</div>
<div style="position:absolute;left:41.1px;top:277.5px;width:15.0px;height:15.0px;border-radius:50%;background:#f9f9f9"></div>
<svg style="position:absolute;left:45.6px;top:281.6px;" width="7" height="7" viewBox="0 0 7 7"><rect x="0.4" y="0.4" width="6.2" height="6.1" rx="1.5" fill="#6a2ad0"/><path d="M2.1 1.6 V5.4" stroke="#fff" stroke-width="0.6"/><path d="M3.4 2.2 H5 M3.4 4.8 H5" stroke="#fff" stroke-width="0.8"/></svg>
<div style="position:absolute;left:60.6px;top:279.95px;height:11.9px;line-height:11.9px;font-size:5.95px;color:#1a1a1a;font-weight:normal;white-space:nowrap;-webkit-text-stroke-width:0.2px;">Session Recordings With Triggered Event</div>
<div style="position:absolute;left:42px;top:298px;width:31.6px;height:14px;background:#fcfcfc;border-radius:4px"></div>
<svg style="position:absolute;left:44.6px;top:302.2px;" width="6" height="6" viewBox="0 0 6 6"><rect x="0.6" y="0.6" width="4.8" height="4.8" rx="1.2" stroke="#444" stroke-width="0.7" fill="#fff"/></svg>
<div style="position:absolute;left:54.1px;top:301.0px;height:7.8px;line-height:7.8px;font-size:3.9px;color:#222;font-weight:bold;white-space:nowrap;-webkit-text-stroke-width:0px;">Select</div>
<svg style="position:absolute;left:66.3px;top:303.8px;" width="3" height="2.5" viewBox="0 0 3 2.5"><path d="M0.4 0.5 L1.5 1.7 L2.6 0.5" stroke="#777" stroke-width="0.45" fill="none"/></svg>
<div style="position:absolute;left:462px;top:299px;width:10.7px;height:13.5px;background:#f7f7f7;border-radius:4px"></div>
<svg style="position:absolute;left:464.3px;top:301px;" width="6" height="10" viewBox="0 0 6 10"><path d="M0.6 0.8 H5.4 L3.6 3 V5 L2.4 4.4 V3 Z" stroke="#333" stroke-width="0.6" fill="none"/><path d="M1.6 7.2 L3 8.4 L4.4 7.2" stroke="#555" stroke-width="0.5" fill="none"/></svg>
<div style="position:absolute;left:203.60000000000002px;width:300px;text-align:right;top:298.29999999999995px;height:8.2px;line-height:8.2px;font-size:4.1px;color:#8a8a8a;font-weight:normal;white-space:nowrap;-webkit-text-stroke-width:0.02px;">Shown Entries</div>
<div style="position:absolute;left:203.60000000000002px;width:300px;text-align:right;top:303.9px;height:8.0px;line-height:8.0px;font-size:4.0px;color:#444;font-weight:normal;white-space:nowrap;-webkit-text-stroke-width:0.05px;">1-6/564</div>
<div style="position:absolute;left:511px;top:299.5px;width:10.6px;height:13.5px;background:#f7f7f7;border-radius:4px"></div>
<div style="position:absolute;left:366.29999999999995px;width:300px;text-align:center;top:300.59999999999997px;height:8.6px;line-height:8.6px;font-size:4.3px;color:#333;font-weight:normal;white-space:nowrap;-webkit-text-stroke-width:0.1px;">6</div>
<svg style="position:absolute;left:513.8px;top:307.8px;" width="6" height="4" viewBox="0 0 6 4"><path d="M1 1 L3 3 L5 1" stroke="#666" stroke-width="0.6" fill="none"/></svg>
<div style="position:absolute;left:529.5px;top:297.4px;width:28.3px;height:15.1px;background:#f1ebfb;border-radius:4px 0 0 4px"></div>
<svg style="position:absolute;left:534.3px;top:301.9px;" width="6" height="6" viewBox="0 0 6 6"><circle cx="3" cy="3" r="2.3" stroke="#cbb8ef" stroke-width="0.6" fill="none"/><path d="M3.4 2 L2.4 3 L3.4 4" stroke="#cbb8ef" stroke-width="0.6" fill="none"/></svg>
<div style="position:absolute;left:545.4px;top:297.4px;width:12.4px;height:15.1px;background:#dcdcdc"></div>
<div style="position:absolute;left:401.6px;width:300px;text-align:center;top:301.20000000000005px;height:8.8px;line-height:8.8px;font-size:4.4px;color:#333;font-weight:normal;white-space:nowrap;-webkit-text-stroke-width:0.1px;">1</div>
<div style="position:absolute;left:558px;top:297.4px;width:15px;height:15.1px;background:#fbfbfb;border-radius:4px"></div>
<svg style="position:absolute;left:561.7px;top:301px;" width="8" height="8" viewBox="0 0 8 8"><circle cx="4" cy="4" r="3" stroke="#222" stroke-width="0.8" fill="none"/><path d="M3.4 2.7 L4.7 4 L3.4 5.3" stroke="#222" stroke-width="0.8" fill="none"/></svg>
<div style="position:absolute;left:41.5px;top:315.6px;width:531.5px;height:15.5px;background:#f7f7f7;border-radius:4px"></div>
<div style="position:absolute;left:-66.5px;width:300px;text-align:center;top:319.9px;height:8.0px;line-height:8.0px;font-size:4.0px;color:#5e5e5e;font-weight:normal;white-space:nowrap;-webkit-text-stroke-width:0.03px;">Recording ID &amp; Date</div>
<div style="position:absolute;left:2.3000000000000114px;width:300px;text-align:center;top:319.9px;height:8.0px;line-height:8.0px;font-size:4.0px;color:#5e5e5e;font-weight:normal;white-space:nowrap;-webkit-text-stroke-width:0.03px;">Duration (mm:ss)</div>
<div style="position:absolute;left:42.19999999999999px;width:300px;text-align:center;top:319.9px;height:8.0px;line-height:8.0px;font-size:4.0px;color:#5e5e5e;font-weight:normal;white-space:nowrap;-webkit-text-stroke-width:0.03px;">Alarming B...</div>
<svg style="position:absolute;left:206.5px;top:317.29999999999995px;" width="8" height="10" viewBox="0 0 8 10"><path d="M6.8 6.4 V4 H5.6 L1.3 7.3 L3.5 9.5" stroke="#f06a3a" stroke-width="0.95" fill="none" stroke-linejoin="round" stroke-linecap="round"/><path d="M5 7.5 L6.5 8.8" stroke="#f06a3a" stroke-width="1" stroke-linecap="round"/></svg>
<div style="position:absolute;left:215px;top:320.0px;height:7.8px;line-height:7.8px;font-size:3.9px;color:#f06a3a;font-weight:normal;white-space:nowrap;-webkit-text-stroke-width:0.1px;">66</div>
<div style="position:absolute;left:115.5px;width:300px;text-align:center;top:319.9px;height:8.0px;line-height:8.0px;font-size:4.0px;color:#5e5e5e;font-weight:normal;white-space:nowrap;-webkit-text-stroke-width:0.03px;">Visited Pages</div>
<div style="position:absolute;left:190px;width:300px;text-align:center;top:319.9px;height:8.0px;line-height:8.0px;font-size:4.0px;color:#5e5e5e;font-weight:normal;white-space:nowrap;-webkit-text-stroke-width:0.03px;">Visitor Details</div>
<div style="position:absolute;left:260px;width:300px;text-align:center;top:319.9px;height:8.0px;line-height:8.0px;font-size:4.0px;color:#5e5e5e;font-weight:normal;white-space:nowrap;-webkit-text-stroke-width:0.03px;">Referer</div>
<div style="position:absolute;left:333.3px;width:300px;text-align:center;top:319.9px;height:8.0px;line-height:8.0px;font-size:4.0px;color:#5e5e5e;font-weight:normal;white-space:nowrap;-webkit-text-stroke-width:0.03px;">Recording Details</div>
<div style="position:absolute;left:396.20000000000005px;width:300px;text-align:center;top:319.9px;height:8.0px;line-height:8.0px;font-size:4.0px;color:#5e5e5e;font-weight:normal;white-space:nowrap;-webkit-text-stroke-width:0.03px;">Actions</div>
<div style="position:absolute;left:45px;top:336.0px;width:14px;height:14px;border-radius:50%;background:#faf9fc"></div>
<svg style="position:absolute;left:49.2px;top:340.4px;" width="7" height="5.4" viewBox="0 0 7 5.4"><rect x="0.5" y="0.6" width="4.2" height="4.2" rx="1.3" stroke="#5a0cc2" stroke-width="0.9" fill="none"/><path d="M4.7 2.2 L6.4 1.4 V4 L4.7 3.2" stroke="#5a0cc2" stroke-width="0.8" fill="none"/></svg>
<div style="position:absolute;left:63.4px;top:336.5px;height:8.6px;line-height:8.6px;font-size:4.3px;color:#222;font-weight:normal;white-space:nowrap;-webkit-text-stroke-width:0.1px;">D08C7216-30F3-4362-B...</div>
<div style="position:absolute;left:63.4px;top:342.6px;height:8.0px;line-height:8.0px;font-size:4.0px;color:#666;font-weight:normal;white-space:nowrap;">11/01/2025, 6:30 AM</div>
<div style="position:absolute;left:2.5px;width:300px;text-align:center;top:338.09999999999997px;height:10.6px;line-height:10.6px;font-size:5.3px;color:#1e1e1e;font-weight:normal;white-space:nowrap;-webkit-text-stroke-width:0.15px;">01:20</div>
<svg style="position:absolute;left:193px;top:336.5px;" width="8" height="10" viewBox="0 0 8 10"><path d="M6.8 6.4 V4 H5.6 L1.3 7.3 L3.5 9.5" stroke="#5a0cc2" stroke-width="0.95" fill="none" stroke-linejoin="round" stroke-linecap="round"/><path d="M5 7.5 L6.5 8.8" stroke="#5a0cc2" stroke-width="1" stroke-linecap="round"/></svg>
<div style="position:absolute;left:204px;top:339.09999999999997px;height:9.6px;line-height:9.6px;font-size:4.8px;color:#5a0cc2;font-weight:bold;white-space:nowrap;-webkit-text-stroke-width:0.05px;">2</div>
<svg style="position:absolute;left:232.5px;top:339.7px;" width="6.2" height="7.2" viewBox="0 0 6.2 7.2"><path d="M3.10 0.5 L5.70 2.05 V5.15 L3.10 6.70 L0.5 5.15 V2.05 Z" fill="#a888e6" stroke="#5a0cc2" stroke-width="0.75" stroke-linejoin="round"/><path d="M3.10 2.36 V3.60" stroke="#e6dbfa" stroke-width="0.90" stroke-linecap="round"/></svg>
<div style="position:absolute;left:242.6px;top:339.09999999999997px;height:9.6px;line-height:9.6px;font-size:4.8px;color:#5a0cc2;font-weight:bold;white-space:nowrap;-webkit-text-stroke-width:0.05px;">1</div>
<svg style="position:absolute;left:253.5px;top:335.4px;" width="8" height="6" viewBox="0 0 8 6"><path d="M0.4 3 H2.6 M1.8 2 L0.6 3 L1.8 4" stroke="#444" stroke-width="0.6" fill="none" stroke-linejoin="round"/><path d="M3.4 0.8 H5.4 Q6.6 0.8 6.6 2 V4 Q6.6 5.2 5.4 5.2 H3.4 Z" stroke="#444" stroke-width="0.6" fill="none"/></svg>
<div style="position:absolute;left:262px;top:334.51000000000005px;height:8.18px;line-height:8.18px;font-size:4.09px;color:#555;font-weight:normal;white-space:nowrap;-webkit-text-stroke-width:0.03px;">URL inaccessible du...</div>
<svg style="position:absolute;left:253.5px;top:345.1px;" width="8" height="6" viewBox="0 0 8 6"><path d="M3.2 0.8 H1.4 Q0.6 0.8 0.6 1.6 V4.4 Q0.6 5.2 1.4 5.2 H3.2" stroke="#444" stroke-width="0.6" fill="none"/><path d="M3.2 3 H5.6 M4.7 2 L5.8 3 L4.7 4" stroke="#444" stroke-width="0.6" fill="none"/></svg>
<div style="position:absolute;left:262px;top:344.31px;height:8.18px;line-height:8.18px;font-size:4.09px;color:#555;font-weight:normal;white-space:nowrap;-webkit-text-stroke-width:0.03px;">URL inaccessible du...</div>
<div style="position:absolute;left:312.3px;top:336.5px;width:13.0px;height:13.0px;border-radius:50%;background:#fbfbfb"></div>
<svg style="position:absolute;left:313.8px;top:338.0px;transform:scale(0.82)" width="10" height="10" viewBox="0 0 10 10"><clipPath id="cuk"><circle cx="5" cy="5" r="4"/></clipPath><g clip-path="url(#cuk)"><rect width="10" height="10" fill="#1f3a93"/><path d="M0 0 L10 10 M10 0 L0 10" stroke="#fff" stroke-width="1.6"/><path d="M5 0 V10 M0 5 H10" stroke="#fff" stroke-width="2.4"/><path d="M5 0 V10 M0 5 H10" stroke="#d8202a" stroke-width="1.3"/></g></svg>
<div style="position:absolute;left:329.9px;top:336.65000000000003px;height:7.9px;line-height:7.9px;font-size:3.95px;color:#1e1e1e;font-weight:bold;white-space:nowrap;-webkit-text-stroke-width:0.02px;">New visitor</div>
<div style="position:absolute;left:329.9px;top:342.52000000000004px;height:8.16px;line-height:8.16px;font-size:4.08px;color:#5a5a5a;font-weight:normal;white-space:nowrap;-webkit-text-stroke-width:0.03px;">United Kingdom</div>
<div style="position:absolute;left:378.6px;top:336.0px;width:14px;height:14px;border-radius:50%;background:#fafafa"></div>
<svg style="position:absolute;left:382.6px;top:340.1px;" width="7" height="7" viewBox="0 0 7 7"><g transform="scale(0.85)"><path d="M6.3 3.6 H3.6 V2.9 H6.2 Q6.4 5.6 3.5 6.4 Q0.6 6.4 0.6 3.5 Q0.6 0.6 3.5 0.6 Q4.8 0.6 5.6 1.4" stroke="none" fill="none"/><path d="M5.6 1.5 A2.9 2.9 0 0 0 0.9 2.2" stroke="#ea4335" stroke-width="1.1" fill="none"/><path d="M0.9 2.2 A2.9 2.9 0 0 0 0.9 4.8" stroke="#fbbc05" stroke-width="1.1" fill="none"/><path d="M0.9 4.8 A2.9 2.9 0 0 0 5.6 5.5" stroke="#34a853" stroke-width="1.1" fill="none"/><path d="M5.6 5.5 A2.9 2.9 0 0 0 6.4 3.5 H3.6" stroke="#4285f4" stroke-width="1.1" fill="none"/></g></svg>
<div style="position:absolute;left:395.9px;top:339.25px;height:8.7px;line-height:8.7px;font-size:4.35px;color:#444;font-weight:normal;white-space:nowrap;-webkit-text-stroke-width:0.08px;">google.com/</div>
<div style="position:absolute;left:458.0px;top:335.7px;width:14.6px;height:14.6px;border-radius:50%;background:#f9f9f9"></div>
<div style="position:absolute;left:476.0px;top:335.7px;width:14.6px;height:14.6px;border-radius:50%;background:#f9f9f9"></div>
<div style="position:absolute;left:494.5px;top:335.7px;width:14.6px;height:14.6px;border-radius:50%;background:#f9f9f9"></div>
<svg style="position:absolute;left:462px;top:340.0px;" width="7" height="6" viewBox="0 0 7 6"><rect x="0.6" y="0.6" width="5.8" height="3.8" rx="1" stroke="#444" stroke-width="0.6" fill="none"/><path d="M2.4 5.4 H4.6" stroke="#444" stroke-width="0.6"/></svg>
<svg style="position:absolute;left:480.3px;top:340.0px;" width="6" height="6" viewBox="0 0 6 6"><rect x="0" y="0" width="2.8" height="2.8" fill="#f35325"/><rect x="3.2" y="0" width="2.8" height="2.8" fill="#81bc06"/><rect x="0" y="3.2" width="2.8" height="2.8" fill="#05a6f0"/><rect x="3.2" y="3.2" width="2.8" height="2.8" fill="#ffba08"/></svg>
<svg style="position:absolute;left:498.8px;top:340.0px;" width="6" height="6" viewBox="0 0 6 6"><circle cx="3" cy="3" r="2.9" fill="#db4437"/><path d="M3 3 L0.4 1.6 A2.9 2.9 0 0 0 2 5.8 Z" fill="#0f9d58"/><path d="M3 3 L2 5.8 A2.9 2.9 0 0 0 5.9 3 Z" fill="#f4b400"/><circle cx="3" cy="3" r="1.3" fill="#fff"/><circle cx="3" cy="3" r="1" fill="#4285f4"/></svg>
<div style="position:absolute;left:538.9000000000001px;top:335.2px;width:15.6px;height:15.6px;border-radius:50%;background:#fafafa"></div>
<svg style="position:absolute;left:543px;top:339.3px;" width="7.4" height="7.4" viewBox="0 0 7.4 7.4"><circle cx="3.7" cy="3.7" r="3" stroke="#444" stroke-width="0.6" fill="none"/><path d="M2.2 3.7 H5.2" stroke="#444" stroke-width="0.6"/></svg>
<div style="position:absolute;left:45px;top:359.5px;width:14px;height:14px;border-radius:50%;background:#faf9fc"></div>
<svg style="position:absolute;left:49.2px;top:363.9px;" width="7" height="5.4" viewBox="0 0 7 5.4"><rect x="0.5" y="0.6" width="4.2" height="4.2" rx="1.3" stroke="#5a0cc2" stroke-width="0.9" fill="none"/><path d="M4.7 2.2 L6.4 1.4 V4 L4.7 3.2" stroke="#5a0cc2" stroke-width="0.8" fill="none"/></svg>
<div style="position:absolute;left:63.4px;top:360.0px;height:8.6px;line-height:8.6px;font-size:4.3px;color:#222;font-weight:normal;white-space:nowrap;-webkit-text-stroke-width:0.1px;">D3083C24-0414-4CD1-9...</div>
<div style="position:absolute;left:63.4px;top:366.1px;height:8.0px;line-height:8.0px;font-size:4.0px;color:#666;font-weight:normal;white-space:nowrap;">11/01/2025, 3:50 AM</div>
<div style="position:absolute;left:2.5px;width:300px;text-align:center;top:361.59999999999997px;height:10.6px;line-height:10.6px;font-size:5.3px;color:#1e1e1e;font-weight:normal;white-space:nowrap;-webkit-text-stroke-width:0.15px;">01:35</div>
<svg style="position:absolute;left:192px;top:360.0px;" width="8" height="10" viewBox="0 0 8 10"><path d="M6.8 6.4 V4 H5.6 L1.3 7.3 L3.5 9.5" stroke="#5a0cc2" stroke-width="0.95" fill="none" stroke-linejoin="round" stroke-linecap="round"/><path d="M5 7.5 L6.5 8.8" stroke="#5a0cc2" stroke-width="1" stroke-linecap="round"/></svg>
<div style="position:absolute;left:202.6px;top:362.59999999999997px;height:9.6px;line-height:9.6px;font-size:4.8px;color:#5a0cc2;font-weight:bold;white-space:nowrap;-webkit-text-stroke-width:0.05px;">26</div>
<svg style="position:absolute;left:232.5px;top:363.2px;" width="6.2" height="7.2" viewBox="0 0 6.2 7.2"><path d="M3.10 0.5 L5.70 2.05 V5.15 L3.10 6.70 L0.5 5.15 V2.05 Z" fill="#a888e6" stroke="#5a0cc2" stroke-width="0.75" stroke-linejoin="round"/><path d="M3.10 2.36 V3.60" stroke="#e6dbfa" stroke-width="0.90" stroke-linecap="round"/></svg>
<div style="position:absolute;left:242.6px;top:362.59999999999997px;height:9.6px;line-height:9.6px;font-size:4.8px;color:#5a0cc2;font-weight:bold;white-space:nowrap;-webkit-text-stroke-width:0.05px;">1</div>
<svg style="position:absolute;left:253.5px;top:358.9px;" width="8" height="6" viewBox="0 0 8 6"><path d="M0.4 3 H2.6 M1.8 2 L0.6 3 L1.8 4" stroke="#444" stroke-width="0.6" fill="none" stroke-linejoin="round"/><path d="M3.4 0.8 H5.4 Q6.6 0.8 6.6 2 V4 Q6.6 5.2 5.4 5.2 H3.4 Z" stroke="#444" stroke-width="0.6" fill="none"/></svg>
<div style="position:absolute;left:262px;top:358.01000000000005px;height:8.18px;line-height:8.18px;font-size:4.09px;color:#555;font-weight:normal;white-space:nowrap;-webkit-text-stroke-width:0.03px;">URL inaccessible du...</div>
<svg style="position:absolute;left:253.5px;top:368.6px;" width="8" height="6" viewBox="0 0 8 6"><path d="M3.2 0.8 H1.4 Q0.6 0.8 0.6 1.6 V4.4 Q0.6 5.2 1.4 5.2 H3.2" stroke="#444" stroke-width="0.6" fill="none"/><path d="M3.2 3 H5.6 M4.7 2 L5.8 3 L4.7 4" stroke="#444" stroke-width="0.6" fill="none"/></svg>
<div style="position:absolute;left:262px;top:367.81px;height:8.18px;line-height:8.18px;font-size:4.09px;color:#555;font-weight:normal;white-space:nowrap;-webkit-text-stroke-width:0.03px;">URL inaccessible du...</div>
<div style="position:absolute;left:312.3px;top:360.0px;width:13.0px;height:13.0px;border-radius:50%;background:#fbfbfb"></div>
<svg style="position:absolute;left:313.8px;top:361.5px;transform:scale(0.82)" width="10" height="10" viewBox="0 0 10 10"><clipPath id="cfr"><circle cx="5" cy="5" r="4"/></clipPath><g clip-path="url(#cfr)"><rect x="0" width="3.7" height="10" fill="#1c3fa8"/><rect x="3.7" width="2.6" height="10" fill="#fff"/><rect x="6.3" width="3.7" height="10" fill="#e02030"/></g></svg>
<div style="position:absolute;left:329.9px;top:360.15000000000003px;height:7.9px;line-height:7.9px;font-size:3.95px;color:#1e1e1e;font-weight:bold;white-space:nowrap;-webkit-text-stroke-width:0.02px;">New visitor</div>
<div style="position:absolute;left:329.9px;top:366.02000000000004px;height:8.16px;line-height:8.16px;font-size:4.08px;color:#5a5a5a;font-weight:normal;white-space:nowrap;-webkit-text-stroke-width:0.03px;">France</div>
<div style="position:absolute;left:378.6px;top:359.5px;width:14px;height:14px;border-radius:50%;background:#fafafa"></div>
<svg style="position:absolute;left:382.6px;top:363.6px;" width="7" height="7" viewBox="0 0 7 7"><g transform="scale(0.85)"><path d="M6.3 3.6 H3.6 V2.9 H6.2 Q6.4 5.6 3.5 6.4 Q0.6 6.4 0.6 3.5 Q0.6 0.6 3.5 0.6 Q4.8 0.6 5.6 1.4" stroke="none" fill="none"/><path d="M5.6 1.5 A2.9 2.9 0 0 0 0.9 2.2" stroke="#ea4335" stroke-width="1.1" fill="none"/><path d="M0.9 2.2 A2.9 2.9 0 0 0 0.9 4.8" stroke="#fbbc05" stroke-width="1.1" fill="none"/><path d="M0.9 4.8 A2.9 2.9 0 0 0 5.6 5.5" stroke="#34a853" stroke-width="1.1" fill="none"/><path d="M5.6 5.5 A2.9 2.9 0 0 0 6.4 3.5 H3.6" stroke="#4285f4" stroke-width="1.1" fill="none"/></g></svg>
<div style="position:absolute;left:395.9px;top:362.75px;height:8.7px;line-height:8.7px;font-size:4.35px;color:#444;font-weight:normal;white-space:nowrap;-webkit-text-stroke-width:0.08px;">google.com/</div>
<div style="position:absolute;left:458.0px;top:359.2px;width:14.6px;height:14.6px;border-radius:50%;background:#f9f9f9"></div>
<div style="position:absolute;left:476.0px;top:359.2px;width:14.6px;height:14.6px;border-radius:50%;background:#f9f9f9"></div>
<div style="position:absolute;left:494.5px;top:359.2px;width:14.6px;height:14.6px;border-radius:50%;background:#f9f9f9"></div>
<svg style="position:absolute;left:462px;top:363.5px;" width="7" height="6" viewBox="0 0 7 6"><rect x="0.6" y="0.6" width="5.8" height="3.8" rx="1" stroke="#444" stroke-width="0.6" fill="none"/><path d="M2.4 5.4 H4.6" stroke="#444" stroke-width="0.6"/></svg>
<svg style="position:absolute;left:480.3px;top:363.5px;" width="6" height="6" viewBox="0 0 6 6"><rect x="0" y="0" width="2.8" height="2.8" fill="#f35325"/><rect x="3.2" y="0" width="2.8" height="2.8" fill="#81bc06"/><rect x="0" y="3.2" width="2.8" height="2.8" fill="#05a6f0"/><rect x="3.2" y="3.2" width="2.8" height="2.8" fill="#ffba08"/></svg>
<svg style="position:absolute;left:498.8px;top:363.5px;" width="6" height="6" viewBox="0 0 6 6"><circle cx="3" cy="3" r="2.9" fill="#db4437"/><path d="M3 3 L0.4 1.6 A2.9 2.9 0 0 0 2 5.8 Z" fill="#0f9d58"/><path d="M3 3 L2 5.8 A2.9 2.9 0 0 0 5.9 3 Z" fill="#f4b400"/><circle cx="3" cy="3" r="1.3" fill="#fff"/><circle cx="3" cy="3" r="1" fill="#4285f4"/></svg>
<div style="position:absolute;left:538.9000000000001px;top:358.7px;width:15.6px;height:15.6px;border-radius:50%;background:#fafafa"></div>
<svg style="position:absolute;left:543px;top:362.8px;" width="7.4" height="7.4" viewBox="0 0 7.4 7.4"><circle cx="3.7" cy="3.7" r="3" stroke="#444" stroke-width="0.6" fill="none"/><path d="M2.2 3.7 H5.2" stroke="#444" stroke-width="0.6"/></svg>
<div style="position:absolute;left:41.5px;top:378.7px;width:531.5px;height:23.3px;background:#efefef;border-radius:4px"></div>
<div style="position:absolute;left:45px;top:383.0px;width:14px;height:14px;border-radius:50%;background:#fff"></div>
<svg style="position:absolute;left:49.2px;top:387.4px;" width="7" height="5.4" viewBox="0 0 7 5.4"><rect x="0.5" y="0.6" width="4.2" height="4.2" rx="1.3" stroke="#5a0cc2" stroke-width="0.9" fill="none"/><path d="M4.7 2.2 L6.4 1.4 V4 L4.7 3.2" stroke="#5a0cc2" stroke-width="0.8" fill="none"/></svg>
<div style="position:absolute;left:63.4px;top:383.5px;height:8.6px;line-height:8.6px;font-size:4.3px;color:#222;font-weight:normal;white-space:nowrap;-webkit-text-stroke-width:0.1px;">8ACF1C21-828C-4D11-BF...</div>
<div style="position:absolute;left:63.4px;top:389.6px;height:8.0px;line-height:8.0px;font-size:4.0px;color:#666;font-weight:normal;white-space:nowrap;">11/01/2025, 1:13 AM</div>
<div style="position:absolute;left:2.5px;width:300px;text-align:center;top:385.09999999999997px;height:10.6px;line-height:10.6px;font-size:5.3px;color:#1e1e1e;font-weight:normal;white-space:nowrap;-webkit-text-stroke-width:0.15px;">01:51</div>
<div style="position:absolute;left:190.6px;top:382.5px;width:21.1px;height:15.3px;background:#fff;border-radius:4px"></div>
<div style="position:absolute;left:228.7px;top:382.5px;width:21.2px;height:15.3px;background:#fff;border-radius:4px"></div>
<svg style="position:absolute;left:193px;top:383.5px;" width="8" height="10" viewBox="0 0 8 10"><path d="M6.8 6.4 V4 H5.6 L1.3 7.3 L3.5 9.5" stroke="#5a0cc2" stroke-width="0.95" fill="none" stroke-linejoin="round" stroke-linecap="round"/><path d="M5 7.5 L6.5 8.8" stroke="#5a0cc2" stroke-width="1" stroke-linecap="round"/></svg>
<div style="position:absolute;left:204px;top:386.09999999999997px;height:9.6px;line-height:9.6px;font-size:4.8px;color:#5a0cc2;font-weight:bold;white-space:nowrap;-webkit-text-stroke-width:0.05px;">3</div>
<svg style="position:absolute;left:232.5px;top:386.7px;" width="6.2" height="7.2" viewBox="0 0 6.2 7.2"><path d="M3.10 0.5 L5.70 2.05 V5.15 L3.10 6.70 L0.5 5.15 V2.05 Z" fill="#a888e6" stroke="#5a0cc2" stroke-width="0.75" stroke-linejoin="round"/><path d="M3.10 2.36 V3.60" stroke="#e6dbfa" stroke-width="0.90" stroke-linecap="round"/></svg>
<div style="position:absolute;left:242.6px;top:386.09999999999997px;height:9.6px;line-height:9.6px;font-size:4.8px;color:#5a0cc2;font-weight:bold;white-space:nowrap;-webkit-text-stroke-width:0.05px;">3</div>
<svg style="position:absolute;left:254.8px;top:382.4px;" width="8" height="6" viewBox="0 0 8 6"><path d="M0.4 3 H2.6 M1.8 2 L0.6 3 L1.8 4" stroke="#444" stroke-width="0.6" fill="none" stroke-linejoin="round"/><path d="M3.4 0.8 H5.4 Q6.6 0.8 6.6 2 V4 Q6.6 5.2 5.4 5.2 H3.4 Z" stroke="#444" stroke-width="0.6" fill="none"/></svg>
<div style="position:absolute;left:263.3px;top:381.51000000000005px;height:8.18px;line-height:8.18px;font-size:4.09px;color:#555;font-weight:normal;white-space:nowrap;-webkit-text-stroke-width:0.03px;">URL inaccessible du...</div>
<svg style="position:absolute;left:254.8px;top:392.1px;" width="8" height="6" viewBox="0 0 8 6"><path d="M3.2 0.8 H1.4 Q0.6 0.8 0.6 1.6 V4.4 Q0.6 5.2 1.4 5.2 H3.2" stroke="#444" stroke-width="0.6" fill="none"/><path d="M3.2 3 H5.6 M4.7 2 L5.8 3 L4.7 4" stroke="#444" stroke-width="0.6" fill="none"/></svg>
<div style="position:absolute;left:263.3px;top:391.31px;height:8.18px;line-height:8.18px;font-size:4.09px;color:#555;font-weight:normal;white-space:nowrap;-webkit-text-stroke-width:0.03px;">URL inaccessible du...</div>
<div style="position:absolute;left:312.3px;top:383.5px;width:13.0px;height:13.0px;border-radius:50%;background:#fff"></div>
<svg style="position:absolute;left:313.8px;top:385.0px;transform:scale(0.82)" width="10" height="10" viewBox="0 0 10 10"><clipPath id="cca"><circle cx="5" cy="5" r="4"/></clipPath><g clip-path="url(#cca)"><rect width="10" height="10" fill="#fff"/><rect width="2.8" height="10" fill="#e0202a"/><rect x="7.2" width="2.8" height="10" fill="#e0202a"/><circle cx="5" cy="5" r="1.1" fill="#e0202a"/></g></svg>
<div style="position:absolute;left:329.9px;top:383.65000000000003px;height:7.9px;line-height:7.9px;font-size:3.95px;color:#1e1e1e;font-weight:bold;white-space:nowrap;-webkit-text-stroke-width:0.02px;">Returning visitor</div>
<div style="position:absolute;left:329.9px;top:389.52000000000004px;height:8.16px;line-height:8.16px;font-size:4.08px;color:#5a5a5a;font-weight:normal;white-space:nowrap;-webkit-text-stroke-width:0.03px;">Canada</div>
<div style="position:absolute;left:378.6px;top:383.0px;width:14px;height:14px;border-radius:50%;background:#fff"></div>
<div style="position:absolute;left:395.9px;top:386.25px;height:8.7px;line-height:8.7px;font-size:4.35px;color:#444;font-weight:normal;white-space:nowrap;-webkit-text-stroke-width:0.08px;">yourwebsite.com/</div>
<div style="position:absolute;left:458.0px;top:382.7px;width:14.6px;height:14.6px;border-radius:50%;background:#fff"></div>
<div style="position:absolute;left:476.0px;top:382.7px;width:14.6px;height:14.6px;border-radius:50%;background:#fff"></div>
<div style="position:absolute;left:494.5px;top:382.7px;width:14.6px;height:14.6px;border-radius:50%;background:#fff"></div>
<svg style="position:absolute;left:462px;top:387.0px;" width="7" height="6" viewBox="0 0 7 6"><rect x="0.6" y="0.6" width="5.8" height="3.8" rx="1" stroke="#444" stroke-width="0.6" fill="none"/><path d="M2.4 5.4 H4.6" stroke="#444" stroke-width="0.6"/></svg>
<svg style="position:absolute;left:480.3px;top:387.0px;" width="6" height="6" viewBox="0 0 6 6"><rect x="0" y="0" width="2.8" height="2.8" fill="#f35325"/><rect x="3.2" y="0" width="2.8" height="2.8" fill="#81bc06"/><rect x="0" y="3.2" width="2.8" height="2.8" fill="#05a6f0"/><rect x="3.2" y="3.2" width="2.8" height="2.8" fill="#ffba08"/></svg>
<svg style="position:absolute;left:498.8px;top:387.0px;" width="6" height="6" viewBox="0 0 6 6"><circle cx="3" cy="3" r="2.9" fill="#db4437"/><path d="M3 3 L0.4 1.6 A2.9 2.9 0 0 0 2 5.8 Z" fill="#0f9d58"/><path d="M3 3 L2 5.8 A2.9 2.9 0 0 0 5.9 3 Z" fill="#f4b400"/><circle cx="3" cy="3" r="1.3" fill="#fff"/><circle cx="3" cy="3" r="1" fill="#4285f4"/></svg>
<div style="position:absolute;left:538.9000000000001px;top:382.2px;width:15.6px;height:15.6px;border-radius:50%;background:#fff"></div>
<svg style="position:absolute;left:543px;top:386.3px;" width="7.4" height="7.4" viewBox="0 0 7.4 7.4"><circle cx="3.7" cy="3.7" r="3" stroke="#444" stroke-width="0.6" fill="none"/><path d="M2.2 3.7 H5.2" stroke="#444" stroke-width="0.6"/></svg>
<div style="position:absolute;left:45px;top:406.5px;width:14px;height:14px;border-radius:50%;background:#faf9fc"></div>
<svg style="position:absolute;left:49.2px;top:410.9px;" width="7" height="5.4" viewBox="0 0 7 5.4"><rect x="0.5" y="0.6" width="4.2" height="4.2" rx="1.3" stroke="#5a0cc2" stroke-width="0.9" fill="none"/><path d="M4.7 2.2 L6.4 1.4 V4 L4.7 3.2" stroke="#5a0cc2" stroke-width="0.8" fill="none"/></svg>
<div style="position:absolute;left:63.4px;top:407.0px;height:8.6px;line-height:8.6px;font-size:4.3px;color:#222;font-weight:normal;white-space:nowrap;-webkit-text-stroke-width:0.1px;">33530AE9-4460-4638-B...</div>
<div style="position:absolute;left:63.4px;top:413.1px;height:8.0px;line-height:8.0px;font-size:4.0px;color:#666;font-weight:normal;white-space:nowrap;">11/01/2025, 12:12 AM</div>
<div style="position:absolute;left:2.5px;width:300px;text-align:center;top:408.59999999999997px;height:10.6px;line-height:10.6px;font-size:5.3px;color:#1e1e1e;font-weight:normal;white-space:nowrap;-webkit-text-stroke-width:0.15px;">01:09:53</div>
<svg style="position:absolute;left:192px;top:407.0px;" width="8" height="10" viewBox="0 0 8 10"><path d="M6.8 6.4 V4 H5.6 L1.3 7.3 L3.5 9.5" stroke="#5a0cc2" stroke-width="0.95" fill="none" stroke-linejoin="round" stroke-linecap="round"/><path d="M5 7.5 L6.5 8.8" stroke="#5a0cc2" stroke-width="1" stroke-linecap="round"/></svg>
<div style="position:absolute;left:202.6px;top:409.59999999999997px;height:9.6px;line-height:9.6px;font-size:4.8px;color:#5a0cc2;font-weight:bold;white-space:nowrap;-webkit-text-stroke-width:0.05px;">30</div>
<svg style="position:absolute;left:232.20000000000002px;top:410.2px;" width="6.2" height="7.2" viewBox="0 0 6.2 7.2"><path d="M3.10 0.5 L5.70 2.05 V5.15 L3.10 6.70 L0.5 5.15 V2.05 Z" fill="#a888e6" stroke="#5a0cc2" stroke-width="0.75" stroke-linejoin="round"/><path d="M3.10 2.36 V3.60" stroke="#e6dbfa" stroke-width="0.90" stroke-linecap="round"/></svg>
<div style="position:absolute;left:240.0px;top:409.59999999999997px;height:9.6px;line-height:9.6px;font-size:4.8px;color:#5a0cc2;font-weight:bold;white-space:nowrap;-webkit-text-stroke-width:0.05px;">11</div>
<svg style="position:absolute;left:256.3px;top:405.9px;" width="8" height="6" viewBox="0 0 8 6"><path d="M0.4 3 H2.6 M1.8 2 L0.6 3 L1.8 4" stroke="#444" stroke-width="0.6" fill="none" stroke-linejoin="round"/><path d="M3.4 0.8 H5.4 Q6.6 0.8 6.6 2 V4 Q6.6 5.2 5.4 5.2 H3.4 Z" stroke="#444" stroke-width="0.6" fill="none"/></svg>
<div style="position:absolute;left:264.8px;top:405.01000000000005px;height:8.18px;line-height:8.18px;font-size:4.09px;color:#555;font-weight:normal;white-space:nowrap;-webkit-text-stroke-width:0.03px;">URL inaccessible du...</div>
<svg style="position:absolute;left:256.3px;top:415.6px;" width="8" height="6" viewBox="0 0 8 6"><path d="M3.2 0.8 H1.4 Q0.6 0.8 0.6 1.6 V4.4 Q0.6 5.2 1.4 5.2 H3.2" stroke="#444" stroke-width="0.6" fill="none"/><path d="M3.2 3 H5.6 M4.7 2 L5.8 3 L4.7 4" stroke="#444" stroke-width="0.6" fill="none"/></svg>
<div style="position:absolute;left:264.8px;top:414.81px;height:8.18px;line-height:8.18px;font-size:4.09px;color:#555;font-weight:normal;white-space:nowrap;-webkit-text-stroke-width:0.03px;">URL inaccessible du...</div>
<div style="position:absolute;left:312.3px;top:407.0px;width:13.0px;height:13.0px;border-radius:50%;background:#fbfbfb"></div>
<svg style="position:absolute;left:313.8px;top:408.5px;transform:scale(0.82)" width="10" height="10" viewBox="0 0 10 10"><clipPath id="cro"><circle cx="5" cy="5" r="4"/></clipPath><g clip-path="url(#cro)"><rect x="0" width="3.7" height="10" fill="#1c3fa8"/><rect x="3.7" width="2.6" height="10" fill="#f8d010"/><rect x="6.3" width="3.7" height="10" fill="#e02030"/></g></svg>
<div style="position:absolute;left:329.9px;top:407.15000000000003px;height:7.9px;line-height:7.9px;font-size:3.95px;color:#1e1e1e;font-weight:bold;white-space:nowrap;-webkit-text-stroke-width:0.02px;">Returning visitor</div>
<div style="position:absolute;left:329.9px;top:413.02000000000004px;height:8.16px;line-height:8.16px;font-size:4.08px;color:#5a5a5a;font-weight:normal;white-space:nowrap;-webkit-text-stroke-width:0.03px;">Romania</div>
<div style="position:absolute;left:378.6px;top:406.5px;width:14px;height:14px;border-radius:50%;background:#fbfbfb"></div>
<svg style="position:absolute;left:381.6px;top:409.5px;" width="8" height="8" viewBox="0 0 8 8"><circle cx="4" cy="4" r="3.7" stroke="#333" stroke-width="0.75" fill="none" stroke-dasharray="1.1 0.85"/></svg>
<div style="position:absolute;left:395.9px;top:406.65px;height:8.5px;line-height:8.5px;font-size:4.25px;color:#555;font-weight:normal;white-space:nowrap;-webkit-text-stroke-width:0.05px;">Direct Page View of</div>
<div style="position:absolute;left:395.9px;top:412.55px;height:8.5px;line-height:8.5px;font-size:4.25px;color:#555;font-weight:normal;white-space:nowrap;-webkit-text-stroke-width:0.05px;">Recording's Entry Page</div>
<div style="position:absolute;left:458.0px;top:406.2px;width:14.6px;height:14.6px;border-radius:50%;background:#f9f9f9"></div>
<div style="position:absolute;left:476.0px;top:406.2px;width:14.6px;height:14.6px;border-radius:50%;background:#f9f9f9"></div>
<div style="position:absolute;left:494.5px;top:406.2px;width:14.6px;height:14.6px;border-radius:50%;background:#f9f9f9"></div>
<svg style="position:absolute;left:462px;top:410.5px;" width="7" height="6" viewBox="0 0 7 6"><rect x="0.6" y="0.6" width="5.8" height="3.8" rx="1" stroke="#444" stroke-width="0.6" fill="none"/><path d="M2.4 5.4 H4.6" stroke="#444" stroke-width="0.6"/></svg>
<svg style="position:absolute;left:480.3px;top:410.2px;" width="6" height="7" viewBox="0 0 6 7"><path d="M3 1.8 Q4.8 1.2 5.4 2.4 Q4.2 3.2 4.6 4.6 Q5 5.2 5.2 5.3 Q4.5 6.8 3.6 6.6 Q3 6.3 2.4 6.6 Q1.5 6.8 0.8 5.2 Q0.1 3.4 1.1 2.3 Q2 1.4 3 1.8 Z M3 1.5 Q3.1 0.4 4.2 0.2" fill="#111" stroke="#111" stroke-width="0.3"/></svg>
<svg style="position:absolute;left:498.8px;top:410.5px;" width="6" height="6" viewBox="0 0 6 6"><circle cx="3" cy="3" r="2.9" fill="#db4437"/><path d="M3 3 L0.4 1.6 A2.9 2.9 0 0 0 2 5.8 Z" fill="#0f9d58"/><path d="M3 3 L2 5.8 A2.9 2.9 0 0 0 5.9 3 Z" fill="#f4b400"/><circle cx="3" cy="3" r="1.3" fill="#fff"/><circle cx="3" cy="3" r="1" fill="#4285f4"/></svg>
<div style="position:absolute;left:538.9000000000001px;top:405.7px;width:15.6px;height:15.6px;border-radius:50%;background:#fafafa"></div>
<svg style="position:absolute;left:543px;top:409.8px;" width="7.4" height="7.4" viewBox="0 0 7.4 7.4"><circle cx="3.7" cy="3.7" r="3" stroke="#444" stroke-width="0.6" fill="none"/><path d="M2.2 3.7 H5.2" stroke="#444" stroke-width="0.6"/></svg>
<div style="position:absolute;left:45px;top:430.0px;width:14px;height:14px;border-radius:50%;background:#faf9fc"></div>
<svg style="position:absolute;left:49.2px;top:434.4px;" width="7" height="5.4" viewBox="0 0 7 5.4"><rect x="0.5" y="0.6" width="4.2" height="4.2" rx="1.3" stroke="#5a0cc2" stroke-width="0.9" fill="none"/><path d="M4.7 2.2 L6.4 1.4 V4 L4.7 3.2" stroke="#5a0cc2" stroke-width="0.8" fill="none"/></svg>
<div style="position:absolute;left:63.4px;top:430.5px;height:8.6px;line-height:8.6px;font-size:4.3px;color:#222;font-weight:normal;white-space:nowrap;-webkit-text-stroke-width:0.1px;">FF400937-4790-4E11-B9...</div>
<div style="position:absolute;left:63.4px;top:436.6px;height:8.0px;line-height:8.0px;font-size:4.0px;color:#666;font-weight:normal;white-space:nowrap;">11/01/2025, 12:18 AM</div>
<div style="position:absolute;left:2.5px;width:300px;text-align:center;top:432.09999999999997px;height:10.6px;line-height:10.6px;font-size:5.3px;color:#1e1e1e;font-weight:normal;white-space:nowrap;-webkit-text-stroke-width:0.15px;">00:42</div>
<svg style="position:absolute;left:193px;top:430.5px;" width="8" height="10" viewBox="0 0 8 10"><path d="M6.8 6.4 V4 H5.6 L1.3 7.3 L3.5 9.5" stroke="#5a0cc2" stroke-width="0.95" fill="none" stroke-linejoin="round" stroke-linecap="round"/><path d="M5 7.5 L6.5 8.8" stroke="#5a0cc2" stroke-width="1" stroke-linecap="round"/></svg>
<div style="position:absolute;left:204px;top:433.09999999999997px;height:9.6px;line-height:9.6px;font-size:4.8px;color:#5a0cc2;font-weight:bold;white-space:nowrap;-webkit-text-stroke-width:0.05px;">2</div>
<svg style="position:absolute;left:232.5px;top:433.7px;" width="6.2" height="7.2" viewBox="0 0 6.2 7.2"><path d="M3.10 0.5 L5.70 2.05 V5.15 L3.10 6.70 L0.5 5.15 V2.05 Z" fill="#a888e6" stroke="#5a0cc2" stroke-width="0.75" stroke-linejoin="round"/><path d="M3.10 2.36 V3.60" stroke="#e6dbfa" stroke-width="0.90" stroke-linecap="round"/></svg>
<div style="position:absolute;left:242.6px;top:433.09999999999997px;height:9.6px;line-height:9.6px;font-size:4.8px;color:#5a0cc2;font-weight:bold;white-space:nowrap;-webkit-text-stroke-width:0.05px;">2</div>
<svg style="position:absolute;left:254.6px;top:429.4px;" width="8" height="6" viewBox="0 0 8 6"><path d="M0.4 3 H2.6 M1.8 2 L0.6 3 L1.8 4" stroke="#444" stroke-width="0.6" fill="none" stroke-linejoin="round"/><path d="M3.4 0.8 H5.4 Q6.6 0.8 6.6 2 V4 Q6.6 5.2 5.4 5.2 H3.4 Z" stroke="#444" stroke-width="0.6" fill="none"/></svg>
<div style="position:absolute;left:263.1px;top:428.51000000000005px;height:8.18px;line-height:8.18px;font-size:4.09px;color:#555;font-weight:normal;white-space:nowrap;-webkit-text-stroke-width:0.03px;">URL inaccessible du...</div>
<svg style="position:absolute;left:254.6px;top:439.1px;" width="8" height="6" viewBox="0 0 8 6"><path d="M3.2 0.8 H1.4 Q0.6 0.8 0.6 1.6 V4.4 Q0.6 5.2 1.4 5.2 H3.2" stroke="#444" stroke-width="0.6" fill="none"/><path d="M3.2 3 H5.6 M4.7 2 L5.8 3 L4.7 4" stroke="#444" stroke-width="0.6" fill="none"/></svg>
<div style="position:absolute;left:263.1px;top:438.31px;height:8.18px;line-height:8.18px;font-size:4.09px;color:#555;font-weight:normal;white-space:nowrap;-webkit-text-stroke-width:0.03px;">URL inaccessible du...</div>
<div style="position:absolute;left:312.3px;top:430.5px;width:13.0px;height:13.0px;border-radius:50%;background:#fbfbfb"></div>
<svg style="position:absolute;left:313.8px;top:432.0px;transform:scale(0.82)" width="10" height="10" viewBox="0 0 10 10"><clipPath id="cnl"><circle cx="5" cy="5" r="4"/></clipPath><g clip-path="url(#cnl)"><rect width="10" height="3.7" fill="#c8102e"/><rect y="3.7" width="10" height="2.6" fill="#fff"/><rect y="6.3" width="10" height="3.7" fill="#21468b"/></g></svg>
<div style="position:absolute;left:329.9px;top:430.65000000000003px;height:7.9px;line-height:7.9px;font-size:3.95px;color:#1e1e1e;font-weight:bold;white-space:nowrap;-webkit-text-stroke-width:0.02px;">Returning visitor</div>
<div style="position:absolute;left:329.9px;top:436.52000000000004px;height:8.16px;line-height:8.16px;font-size:4.08px;color:#5a5a5a;font-weight:normal;white-space:nowrap;-webkit-text-stroke-width:0.03px;">Netherlands</div>
<div style="position:absolute;left:378.6px;top:430.0px;width:14px;height:14px;border-radius:50%;background:#fbfbfb"></div>
<svg style="position:absolute;left:381.6px;top:433.0px;" width="8" height="8" viewBox="0 0 8 8"><circle cx="4" cy="4" r="3.7" stroke="#333" stroke-width="0.75" fill="none" stroke-dasharray="1.1 0.85"/></svg>
<div style="position:absolute;left:395.9px;top:430.15px;height:8.5px;line-height:8.5px;font-size:4.25px;color:#555;font-weight:normal;white-space:nowrap;-webkit-text-stroke-width:0.05px;">Direct Page View of</div>
<div style="position:absolute;left:395.9px;top:436.05px;height:8.5px;line-height:8.5px;font-size:4.25px;color:#555;font-weight:normal;white-space:nowrap;-webkit-text-stroke-width:0.05px;">Recording's Entry Page</div>
<div style="position:absolute;left:458.0px;top:429.7px;width:14.6px;height:14.6px;border-radius:50%;background:#f9f9f9"></div>
<div style="position:absolute;left:476.0px;top:429.7px;width:14.6px;height:14.6px;border-radius:50%;background:#f9f9f9"></div>
<div style="position:absolute;left:494.5px;top:429.7px;width:14.6px;height:14.6px;border-radius:50%;background:#f9f9f9"></div>
<svg style="position:absolute;left:462px;top:434.0px;" width="7" height="6" viewBox="0 0 7 6"><rect x="0.6" y="0.6" width="5.8" height="3.8" rx="1" stroke="#444" stroke-width="0.6" fill="none"/><path d="M2.4 5.4 H4.6" stroke="#444" stroke-width="0.6"/></svg>
<svg style="position:absolute;left:480.3px;top:433.7px;" width="6" height="7" viewBox="0 0 6 7"><path d="M3 1.8 Q4.8 1.2 5.4 2.4 Q4.2 3.2 4.6 4.6 Q5 5.2 5.2 5.3 Q4.5 6.8 3.6 6.6 Q3 6.3 2.4 6.6 Q1.5 6.8 0.8 5.2 Q0.1 3.4 1.1 2.3 Q2 1.4 3 1.8 Z M3 1.5 Q3.1 0.4 4.2 0.2" fill="#111" stroke="#111" stroke-width="0.3"/></svg>
<svg style="position:absolute;left:498.8px;top:434.0px;" width="6" height="6" viewBox="0 0 6 6"><circle cx="3" cy="3" r="2.9" fill="#ff7139"/><circle cx="3.2" cy="3.2" r="1.6" fill="#9a2fe0"/><path d="M0.4 2 Q1 0 3 0.2 Q1.4 1 2 2" fill="#ffbd4f"/></svg>
<div style="position:absolute;left:538.9000000000001px;top:429.2px;width:15.6px;height:15.6px;border-radius:50%;background:#fafafa"></div>
<svg style="position:absolute;left:543px;top:433.3px;" width="7.4" height="7.4" viewBox="0 0 7.4 7.4"><circle cx="3.7" cy="3.7" r="3" stroke="#444" stroke-width="0.6" fill="none"/><path d="M2.2 3.7 H5.2" stroke="#444" stroke-width="0.6"/></svg>
<div style="position:absolute;left:45px;top:453.5px;width:14px;height:14px;border-radius:50%;background:#faf9fc"></div>
<svg style="position:absolute;left:49.2px;top:457.9px;" width="7" height="5.4" viewBox="0 0 7 5.4"><rect x="0.5" y="0.6" width="4.2" height="4.2" rx="1.3" stroke="#5a0cc2" stroke-width="0.9" fill="none"/><path d="M4.7 2.2 L6.4 1.4 V4 L4.7 3.2" stroke="#5a0cc2" stroke-width="0.8" fill="none"/></svg>
<div style="position:absolute;left:63.4px;top:454.0px;height:8.6px;line-height:8.6px;font-size:4.3px;color:#222;font-weight:normal;white-space:nowrap;-webkit-text-stroke-width:0.1px;">21925AA2-AA22-4DC8-B...</div>
<div style="position:absolute;left:63.4px;top:460.1px;height:8.0px;line-height:8.0px;font-size:4.0px;color:#666;font-weight:normal;white-space:nowrap;">10/31/2025, 11:42 PM</div>
<div style="position:absolute;left:2.5px;width:300px;text-align:center;top:455.59999999999997px;height:10.6px;line-height:10.6px;font-size:5.3px;color:#1e1e1e;font-weight:normal;white-space:nowrap;-webkit-text-stroke-width:0.15px;">24:50</div>
<svg style="position:absolute;left:193px;top:454.0px;" width="8" height="10" viewBox="0 0 8 10"><path d="M6.8 6.4 V4 H5.6 L1.3 7.3 L3.5 9.5" stroke="#5a0cc2" stroke-width="0.95" fill="none" stroke-linejoin="round" stroke-linecap="round"/><path d="M5 7.5 L6.5 8.8" stroke="#5a0cc2" stroke-width="1" stroke-linecap="round"/></svg>
<div style="position:absolute;left:204px;top:456.59999999999997px;height:9.6px;line-height:9.6px;font-size:4.8px;color:#5a0cc2;font-weight:bold;white-space:nowrap;-webkit-text-stroke-width:0.05px;">3</div>
<svg style="position:absolute;left:232.5px;top:457.2px;" width="6.2" height="7.2" viewBox="0 0 6.2 7.2"><path d="M3.10 0.5 L5.70 2.05 V5.15 L3.10 6.70 L0.5 5.15 V2.05 Z" fill="#a888e6" stroke="#5a0cc2" stroke-width="0.75" stroke-linejoin="round"/><path d="M3.10 2.36 V3.60" stroke="#e6dbfa" stroke-width="0.90" stroke-linecap="round"/></svg>
<div style="position:absolute;left:242.6px;top:456.59999999999997px;height:9.6px;line-height:9.6px;font-size:4.8px;color:#5a0cc2;font-weight:bold;white-space:nowrap;-webkit-text-stroke-width:0.05px;">2</div>
<svg style="position:absolute;left:254.6px;top:452.9px;" width="8" height="6" viewBox="0 0 8 6"><path d="M0.4 3 H2.6 M1.8 2 L0.6 3 L1.8 4" stroke="#444" stroke-width="0.6" fill="none" stroke-linejoin="round"/><path d="M3.4 0.8 H5.4 Q6.6 0.8 6.6 2 V4 Q6.6 5.2 5.4 5.2 H3.4 Z" stroke="#444" stroke-width="0.6" fill="none"/></svg>
<div style="position:absolute;left:263.1px;top:452.01000000000005px;height:8.18px;line-height:8.18px;font-size:4.09px;color:#555;font-weight:normal;white-space:nowrap;-webkit-text-stroke-width:0.03px;">URL inaccessible du...</div>
<svg style="position:absolute;left:254.6px;top:462.6px;" width="8" height="6" viewBox="0 0 8 6"><path d="M3.2 0.8 H1.4 Q0.6 0.8 0.6 1.6 V4.4 Q0.6 5.2 1.4 5.2 H3.2" stroke="#444" stroke-width="0.6" fill="none"/><path d="M3.2 3 H5.6 M4.7 2 L5.8 3 L4.7 4" stroke="#444" stroke-width="0.6" fill="none"/></svg>
<div style="position:absolute;left:263.1px;top:461.81px;height:8.18px;line-height:8.18px;font-size:4.09px;color:#555;font-weight:normal;white-space:nowrap;-webkit-text-stroke-width:0.03px;">URL inaccessible du...</div>
<div style="position:absolute;left:312.3px;top:454.0px;width:13.0px;height:13.0px;border-radius:50%;background:#fbfbfb"></div>
<svg style="position:absolute;left:313.8px;top:455.5px;transform:scale(0.82)" width="10" height="10" viewBox="0 0 10 10"><clipPath id="cus"><circle cx="5" cy="5" r="4"/></clipPath><g clip-path="url(#cus)"><rect width="10" height="10" fill="#fff"/><path d="M0 1.5 H10 M0 4 H10 M0 6.5 H10 M0 9 H10" stroke="#c8202a" stroke-width="1.1"/><rect width="5" height="5" fill="#2a3a8a"/></g></svg>
<div style="position:absolute;left:329.9px;top:454.15000000000003px;height:7.9px;line-height:7.9px;font-size:3.95px;color:#1e1e1e;font-weight:bold;white-space:nowrap;-webkit-text-stroke-width:0.02px;">Returning visitor</div>
<div style="position:absolute;left:329.9px;top:460.02000000000004px;height:8.16px;line-height:8.16px;font-size:4.08px;color:#5a5a5a;font-weight:normal;white-space:nowrap;-webkit-text-stroke-width:0.03px;">United States</div>
<div style="position:absolute;left:378.6px;top:453.5px;width:14px;height:14px;border-radius:50%;background:#fbfbfb"></div>
<svg style="position:absolute;left:381.6px;top:456.5px;" width="8" height="8" viewBox="0 0 8 8"><circle cx="4" cy="4" r="3.7" stroke="#333" stroke-width="0.75" fill="none" stroke-dasharray="1.1 0.85"/></svg>
<div style="position:absolute;left:395.9px;top:453.65px;height:8.5px;line-height:8.5px;font-size:4.25px;color:#555;font-weight:normal;white-space:nowrap;-webkit-text-stroke-width:0.05px;">Direct Page View of</div>
<div style="position:absolute;left:395.9px;top:459.55px;height:8.5px;line-height:8.5px;font-size:4.25px;color:#555;font-weight:normal;white-space:nowrap;-webkit-text-stroke-width:0.05px;">Recording's Entry Page</div>
<div style="position:absolute;left:458.0px;top:453.2px;width:14.6px;height:14.6px;border-radius:50%;background:#f9f9f9"></div>
<div style="position:absolute;left:476.0px;top:453.2px;width:14.6px;height:14.6px;border-radius:50%;background:#f9f9f9"></div>
<div style="position:absolute;left:494.5px;top:453.2px;width:14.6px;height:14.6px;border-radius:50%;background:#f9f9f9"></div>
<svg style="position:absolute;left:462px;top:457.5px;" width="7" height="6" viewBox="0 0 7 6"><rect x="0.6" y="0.6" width="5.8" height="3.8" rx="1" stroke="#444" stroke-width="0.6" fill="none"/><path d="M2.4 5.4 H4.6" stroke="#444" stroke-width="0.6"/></svg>
<svg style="position:absolute;left:480.3px;top:457.2px;" width="6" height="7" viewBox="0 0 6 7"><path d="M3 1.8 Q4.8 1.2 5.4 2.4 Q4.2 3.2 4.6 4.6 Q5 5.2 5.2 5.3 Q4.5 6.8 3.6 6.6 Q3 6.3 2.4 6.6 Q1.5 6.8 0.8 5.2 Q0.1 3.4 1.1 2.3 Q2 1.4 3 1.8 Z M3 1.5 Q3.1 0.4 4.2 0.2" fill="#111" stroke="#111" stroke-width="0.3"/></svg>
<svg style="position:absolute;left:498.8px;top:457.5px;" width="6" height="6" viewBox="0 0 6 6"><circle cx="3" cy="3" r="2.9" fill="#1e90f0"/><circle cx="3" cy="3" r="2.2" fill="#4fb4ff"/><path d="M4.4 1.6 L2.6 2.6 L1.6 4.4 L3.4 3.4 Z" fill="#fff"/></svg>
<div style="position:absolute;left:538.9000000000001px;top:452.7px;width:15.6px;height:15.6px;border-radius:50%;background:#fafafa"></div>
<svg style="position:absolute;left:543px;top:456.8px;" width="7.4" height="7.4" viewBox="0 0 7.4 7.4"><circle cx="3.7" cy="3.7" r="3" stroke="#444" stroke-width="0.6" fill="none"/><path d="M2.2 3.7 H5.2" stroke="#444" stroke-width="0.6"/></svg>
<div style="position:absolute;left:44.8px;top:393.8px;width:88.8px;height:10.4px;background:#161616;border-radius:2.5px"></div>
<div style="position:absolute;left:-60.8px;width:300px;text-align:center;top:395.35px;height:7.5px;line-height:7.5px;font-size:3.75px;color:#fff;font-weight:normal;white-space:nowrap;-webkit-text-stroke-width:0.15px;">8ACF1C21-828C-4D11-BF82-ACC7A28025A8</div>
<div style="position:absolute;left:577.5px;top:370.0px;width:9.0px;height:9.0px;border-radius:50%;background:#fff"></div>
<svg style="position:absolute;left:578.5px;top:371px;" width="7" height="7" viewBox="0 0 7 7"><circle cx="3.5" cy="3.5" r="2.9" stroke="#333" stroke-width="0.75" fill="none"/><path d="M2.1 2.9 H4.9 M2.1 4.1 H4.9" stroke="#333" stroke-width="0.6"/></svg>
<div style="position:absolute;left:641.2px;top:291px;width:6.5px;height:1.0px;background:#c4c4c4"></div>
<div style="position:absolute;left:650.8px;top:291px;width:5.5px;height:1.0px;background:#c4c4c4"></div>
<div style="position:absolute;left:660.2px;top:291px;width:5px;height:1.0px;background:#c4c4c4"></div>
<div style="position:absolute;left:669px;top:291px;width:8px;height:1.0px;background:#c4c4c4"></div>
<div style="position:absolute;left:681.4px;top:291px;width:10px;height:1.0px;background:#c4c4c4"></div>
<div style="position:absolute;left:695.8px;top:291px;width:5px;height:1.0px;background:#c4c4c4"></div>
<div style="position:absolute;left:704.4px;top:291px;width:7.2px;height:1.0px;background:#c4c4c4"></div>
<div style="position:absolute;left:733.0px;top:290.3px;width:2.4px;height:2.4px;border-radius:50%;background:#e0304a"></div>
<div style="position:absolute;left:738.3000000000001px;top:290.2px;width:2.6px;height:2.6px;border-radius:50%;background:#555"></div>
<div style="position:absolute;left:743.2px;top:289.3px;width:16.5px;height:4.3px;background:#5a0cc2;border-radius:1.5px"></div>
<div style="position:absolute;left:746px;top:291.1px;width:11px;height:0.8px;background:#b9a0ec"></div>
<div style="position:absolute;left:592px;top:295.2px;width:184px;height:0.8px;background:#d6d6d6"></div>
<div style="position:absolute;left:592.2px;top:294.4px;width:21.5px;height:1.2px;background:#7b3fe0"></div>
<div style="position:absolute;left:592px;top:296px;width:183px;height:39.3px;background:#efefef"></div>
<div style="position:absolute;left:607.2px;top:296.9px;height:8.6px;line-height:8.6px;font-size:4.3px;color:#222;font-weight:bold;white-space:nowrap;-webkit-text-stroke-width:0px;">Before</div>
<div style="position:absolute;left:607.2px;top:302.8px;height:10px;line-height:10px;font-size:5.6px;font-weight:bold;white-space:nowrap;color:#333;-webkit-text-stroke-width:0"><span style="font-size:3px">-</span>23%</div>
<div style="position:absolute;left:607.2px;top:309.40000000000003px;height:8.4px;line-height:8.4px;font-size:4.2px;color:#222;font-weight:bold;white-space:nowrap;-webkit-text-stroke-width:0px;">Visible Traffic</div>
<div style="position:absolute;left:607.2px;top:317px;width:4px;height:0.9px;background:#333"></div>
<div style="position:absolute;left:611.2px;top:317px;width:18.8px;height:0.7px;background:#ccc"></div>
<div style="position:absolute;left:636.7px;top:297px;width:33.8px;height:21.8px;background:#fff"></div>
<div style="position:absolute;left:650px;top:297.5px;width:6px;height:0.8px;background:#999"></div>
<div style="position:absolute;left:638.3px;top:311px;width:30.7px;height:3.2px;background:#5e5e5e"></div>
<div style="position:absolute;left:638.3px;top:315px;width:30.7px;height:3.2px;background:#222"></div>
<div style="position:absolute;left:645px;top:312.2px;width:5px;height:0.7px;background:#aaa"></div>
<div style="position:absolute;left:651px;top:316.2px;width:4px;height:0.7px;background:#888"></div>
<div style="position:absolute;left:633.8px;top:319.5px;width:39.5px;height:2.2px;background:#c8c8c8;border-radius:1px"></div>
<div style="position:absolute;left:642.5px;top:324.6px;width:22px;height:0.8px;background:#a0a0a0"></div>
<div style="position:absolute;left:643px;top:327px;width:21px;height:0.8px;background:#a0a0a0"></div>
<div style="position:absolute;left:675.5px;top:299.09999999999997px;width:17.2px;height:17.2px;border-radius:50%;background:#e6e6e6"></div>
<div style="position:absolute;left:680.5px;top:304.09999999999997px;width:7.2px;height:7.2px;border-radius:50%;background:#fff"></div>
<svg style="position:absolute;left:683.2px;top:306.5px;" width="3" height="3" viewBox="0 0 3 3"><path d="M0.8 0.4 L2 1.2 L0.8 2" stroke="#555" stroke-width="0.4" fill="none"/></svg>
<div style="position:absolute;left:696.2px;top:297px;width:34.4px;height:22.5px;background:#fff;border:0.6px solid;border-image:linear-gradient(90deg,#7a30e0,#f06a1a) 1;"></div>
<div style="position:absolute;left:710px;top:297px;width:6px;height:0.8px;background:#d03050"></div>
<svg style="position:absolute;left:706.3px;top:301.7px;" width="14" height="14" viewBox="0 0 14 14"><circle cx="7" cy="7" r="6.2" stroke="#888" stroke-width="0.35" fill="none"/><ellipse cx="7" cy="7" rx="2.8" ry="6.2" stroke="#888" stroke-width="0.35" fill="none"/><path d="M0.8 7 H13.2 M7 0.8 V13.2 M1.8 4 H12.2 M1.8 10 H12.2" stroke="#888" stroke-width="0.35"/></svg>
<div style="position:absolute;left:693px;top:320px;width:40px;height:2px;border-radius:1px;background:linear-gradient(90deg,#4a10b0,#7a30d0 40%,#f05a10)"></div>
<div style="position:absolute;left:702px;top:324.6px;width:22px;height:0.8px;background:#a0a0a0"></div>
<div style="position:absolute;left:703.5px;top:327px;width:19px;height:0.8px;background:#a0a0a0"></div>
<svg style="position:absolute;left:682px;top:320px;" width="5" height="5" viewBox="0 0 5 5"><path d="M1 1 L4 3.4" stroke="#7a60c0" stroke-width="0.9"/></svg>
<div style="position:absolute;left:736.3px;top:296.9px;height:8.6px;line-height:8.6px;font-size:4.3px;color:#222;font-weight:bold;white-space:nowrap;-webkit-text-stroke-width:0px;">After</div>
<div style="position:absolute;left:736.3px;top:302.4px;height:11.2px;line-height:11.2px;font-size:5.6px;color:#6a18d0;font-weight:bold;white-space:nowrap;-webkit-text-stroke-width:0px;">100%</div>
<div style="position:absolute;left:736.3px;top:309.6px;height:8.4px;line-height:8.4px;font-size:4.2px;font-weight:bold;white-space:nowrap;color:#8a28c0;-webkit-text-stroke-width:0">Visible <span style="color:#f07030">Traffic</span></div>
<div style="position:absolute;left:736.3px;top:317px;width:23.5px;height:0.9px;background:linear-gradient(90deg,#5a0cc2,#f05a10)"></div>
<div style="position:absolute;left:680px;top:343px;width:6.5px;height:0.9px;background:#e06a6a"></div>
<div style="position:absolute;left:688.3px;top:343px;width:7.8px;height:0.9px;background:#9050e0"></div>
<div style="position:absolute;left:592px;top:349.6px;width:183px;height:32.6px;background:#727272;border-radius:0 0 5px 5px"></div>
<div style="position:absolute;left:592px;top:349.6px;width:183px;height:3px;background:#5f5f5f"></div>
<div style="position:absolute;left:596.3px;top:353.2px;width:174.6px;height:3.6px;background:#f7f7f7;border-radius:1px"></div>
<div style="position:absolute;left:596.3px;top:357px;width:174.6px;height:0.6px;background:#555"></div>
<div style="position:absolute;left:596.3px;top:353.8px;width:6px;height:2.4px;background:#5a1cc8"></div>
<div style="position:absolute;left:600.6px;top:351.5px;width:6.8px;height:6.8px;border-radius:50%;background:#fff"></div>
<div style="position:absolute;left:601.3px;top:352.2px;width:5.4px;height:5.4px;border-radius:50%;background:#5a0cc2"></div>
<svg style="position:absolute;left:709px;top:349.6px;" width="5" height="9" viewBox="0 0 5 9"><path d="M0.8 2.4 L2.5 1 L4.2 2.4 M0.8 6.6 L2.5 8 L4.2 6.6" stroke="#111" stroke-width="0.9" fill="none"/></svg>
<div style="position:absolute;left:755.3px;top:352.5px;width:1px;height:4.6px;background:#e02020"></div>
<div style="position:absolute;left:737px;top:352.3px;width:9px;height:0.8px;background:#3a5a70"></div>
<div style="position:absolute;left:596.2px;top:360.7px;width:15.1px;height:16.3px;background:#fff;border-radius:4.5px"></div>
<svg style="position:absolute;left:599.7px;top:364.8px;" width="8" height="8" viewBox="0 0 8 8"><circle cx="4" cy="4" r="3.2" stroke="#222" stroke-width="0.7" fill="none"/><path d="M3.3 2.7 V5.3 M4.7 2.7 V5.3" stroke="#222" stroke-width="0.8"/></svg>
<div style="position:absolute;left:615px;top:363.8px;height:10.4px;line-height:10.4px;font-size:5.2px;color:#fff;font-weight:normal;white-space:nowrap;-webkit-text-stroke-width:0.25px;">00:05/01:51</div>
<div style="position:absolute;left:663px;top:360.7px;width:13.2px;height:16.3px;background:#fafafa;border-radius:4.5px"></div>
<div style="position:absolute;left:519.6px;width:300px;text-align:center;top:364.59999999999997px;height:9.2px;line-height:9.2px;font-size:4.6px;color:#444;font-weight:normal;white-space:nowrap;">1x</div>
<div style="position:absolute;left:680px;top:359.4px;width:74px;height:19.6px;background:#fff;border-radius:6px"></div>
<svg style="position:absolute;left:683.7px;top:365.5px;" width="8" height="8" viewBox="0 0 8 8"><circle cx="4" cy="4" r="3.1" stroke="#333" stroke-width="0.7" fill="none"/><path d="M3.2 2.8 L5 4 L3.2 5.2 Z" fill="#333"/></svg>
<div style="position:absolute;left:696.3px;top:364.22999999999996px;height:10.34px;line-height:10.34px;font-size:5.17px;color:#444;font-weight:normal;white-space:nowrap;">Skip Inactivity</div>
<div style="position:absolute;left:734.2px;top:364.6px;width:15.8px;height:9.2px;background:#d4d4d4;border-radius:5px"></div>
<div style="position:absolute;left:734.6999999999999px;top:365.09999999999997px;width:8.2px;height:8.2px;border-radius:50%;background:#fff"></div>
<div style="position:absolute;left:758.5px;top:361.4px;width:12.5px;height:15.6px;background:#fff;border-radius:4px"></div>
<div style="position:absolute;left:761.4000000000001px;top:365.59999999999997px;width:1.6px;height:1.6px;background:#222;border-radius:0.3px"></div>
<div style="position:absolute;left:761.4000000000001px;top:370.2px;width:1.6px;height:1.6px;background:#222;border-radius:0.3px"></div>
<div style="position:absolute;left:766.1px;top:365.59999999999997px;width:1.6px;height:1.6px;background:#222;border-radius:0.3px"></div>
<div style="position:absolute;left:766.1px;top:370.2px;width:1.6px;height:1.6px;background:#222;border-radius:0.3px"></div>
<div style="position:absolute;left:592px;top:386.5px;width:183px;height:15.1px;background:#5a0cc2;border-radius:4px"></div>
<div style="position:absolute;left:533.6px;width:300px;text-align:center;top:389.6px;height:10.0px;line-height:10.0px;font-size:5.0px;color:#fff;font-weight:normal;white-space:nowrap;-webkit-text-stroke-width:0.3px;">Open Session Recording in Detail View</div>
<div style="position:absolute;left:592px;top:406.7px;width:183px;height:13.8px;background:#f3effb;border-radius:4px"></div>
<div style="position:absolute;left:533.1px;width:300px;text-align:center;top:408.95px;height:9.9px;line-height:9.9px;font-size:4.95px;color:#5a0cc2;font-weight:normal;white-space:nowrap;-webkit-text-stroke-width:0.3px;">Open all Session Recordings Filtered by Selected Alarming Behavior Eve...</div>
</div></body></html>
